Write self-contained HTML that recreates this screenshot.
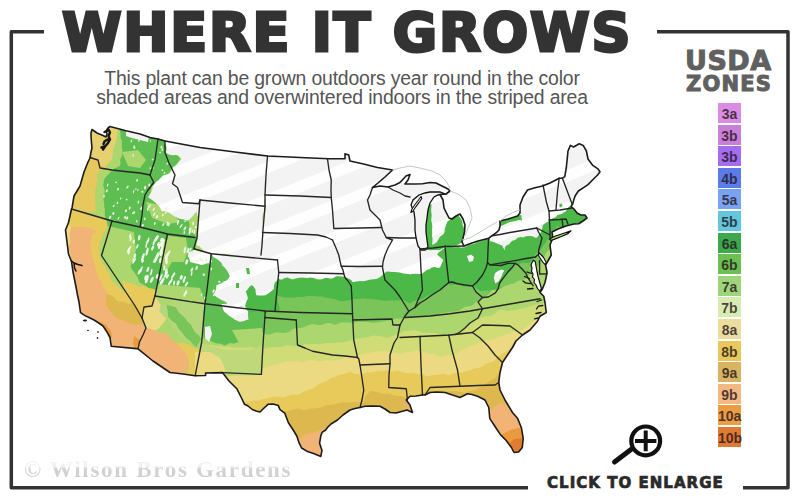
<!DOCTYPE html>
<html><head><meta charset="utf-8"><title>Where It Grows</title>
<style>
html,body{margin:0;padding:0;background:#fff;}
body{width:800px;height:500px;position:relative;overflow:hidden;}
.t{position:absolute;white-space:nowrap;line-height:1;}
#title{left:62px;top:6px;font-family:"DejaVu Sans",sans-serif;font-weight:bold;font-size:54px;letter-spacing:1.8px;color:#333;-webkit-text-stroke:3px #333;}
.sub{font-family:"Liberation Sans",sans-serif;font-size:19.4px;letter-spacing:-0.17px;color:#555;width:800px;text-align:center;left:-58px;}
#usda{left:685px;top:47px;font-family:"DejaVu Sans",sans-serif;font-weight:bold;font-size:27px;letter-spacing:0.5px;color:#606060;-webkit-text-stroke:1px #606060;}
#zones{left:686px;top:73.5px;font-family:"DejaVu Sans",sans-serif;font-weight:bold;font-size:21px;letter-spacing:1.2px;color:#606060;-webkit-text-stroke:1px #606060;}
#legend{position:absolute;left:718px;top:103px;width:23px;}
#legend div{height:20px;margin-bottom:1.6px;font-family:"Liberation Sans",sans-serif;font-weight:bold;font-size:14px;line-height:22.5px;text-align:center;color:rgba(35,22,30,.8);}
#cte{left:547px;top:476.3px;font-family:"DejaVu Sans",sans-serif;font-weight:bold;font-size:15px;letter-spacing:1.03px;color:#2a2a2a;-webkit-text-stroke:0.7px #2a2a2a;}
#wm{left:24px;top:458px;font-family:"Liberation Serif",serif;font-weight:bold;font-size:23px;letter-spacing:1.7px;color:transparent;background:linear-gradient(to bottom,#f4f4f4 0%,#f0f0f0 38%,#d4d4d4 46%,#cdcdcd 100%);-webkit-background-clip:text;background-clip:text;}
svg{position:absolute;left:0;top:0;}
</style></head><body>
<svg width="800" height="500" viewBox="0 0 800 500">
<g fill="none" stroke="#333" stroke-width="3.5" stroke-linecap="butt" stroke-linejoin="round">
<path d="M44 31.8H11.3V487.8H528"/>
<path d="M657 31.8H788V487.8H743"/>
</g>
<g id="map"><defs><clipPath id="us"><path d="M92,129.5 97,133 103,135.5 106,137 107,134 106,131 108,128 110,126.5 125,130.5 140,134 150,137.5 158,139 165,141 200,147.5 235,152 267.5,156 300,157.5 328.75,158.75 345,158.75 345,153.75 348.75,155 350,161 362.5,163.75 377.5,167.5 392.5,170 385,177 378,183 372.5,187.5 380,186 388,187 395,185 400,182.5 406,176 410,174.5 408,180 405,184 415,184 422.5,183.75 430,182.5 436,183 442,186 448,189 450,191 446,194 440,194.5 443,200 444,208 449,218 452,219 456,216 460,214 463,219 465,225 464.5,232 463,238 462,242 464,246 470.5,243.6 478,241 484,239.5 488.6,238.4 492,235.6 496,233 499,230 500,226 500,221 508,219 517.5,216 520,213 520,205 523,197 527.5,190 534,188 542.5,186 550,183 559.2,178.2 562.4,178.2 564.8,176.6 566.4,167 568,151 570.4,145.4 573.6,147 579.2,143.8 583.2,145.4 586.4,151 588,159 592.8,165.4 597.6,168.6 600,171.8 597.6,175 592.8,179.8 588,184.6 583.2,187.8 578.4,191 575.2,195.8 573.6,200.6 572.8,203.8 571,206.5 574,209 577,213 581,215 585,215 587,218 583,221 578.75,223.75 574,224 566,226 558,229 552,232 552.5,235 552,240 550,245 551.25,255 548.5,260 546.5,263.5 545.5,265 546.3,268.5 547,272.5 546,278 545,282.5 542.5,288.75 540,292.5 543.75,296.25 545,302.5 546.25,312.5 540,316.25 537.5,321.25 530,330 522.5,335 516,341 512.5,347.5 507.5,355 502.5,362.5 500,372.5 498.75,382.5 500,390 505,400 512.5,412.5 517.7,418.6 521.4,427.7 523.2,438.5 522.3,447.5 518.6,452 514,452.5 511.4,447.5 506,440.3 500.6,434.9 497,429.5 493.4,424 489.8,418.6 488.75,407.5 485,400 477.5,396.25 472,394.5 467.5,393.75 460,397.5 452.5,395 445,392.5 437,392 430,392.5 425,395 422.5,395 416,396 410,396.25 406.25,400 410,405 412.5,412.5 407,410 402.5,411.25 396,413 390,412.5 385,409 380,406.25 372,406 365,406.25 360,407.5 355,408.5 350,410 343,415 337.5,420 331,424 327.5,427.5 325.6,430 322,432.4 320.8,436 319.6,443.2 322,450.4 320.8,456.4 314.8,454 307.6,451.6 301.6,448 299.2,443.2 296.8,436 293.2,430 288.4,422.8 284.8,413.2 280,409.6 278.3,405.6 273,404 268,404.3 263,409 260,412 256,411 252.3,409.5 248,406 244.5,404.3 242,399 239,393 236.8,388.7 229,381 222.5,372.6 205.6,373 205.6,375.5 195.2,375.7 183,374 170,372.5 153,361 138,348.8 136.25,348.6 111.25,346.25 110,337.5 107,332 103,326 98,322.5 94,320 89,317.5 85,315.6 80.5,312.6 79,302 77.5,295 76,287 73,272 71.5,261.5 68.5,254 67,242 65.5,230 68.5,222.5 71.5,209 72,208 74,196 77,191 80,186 84,172 88,162 90,158 91,152 92,148 91.5,143 91,136 91,133Z"/></clipPath>
<pattern id="stripe" patternUnits="userSpaceOnUse" width="30" height="30" patternTransform="rotate(-22)"><rect width="30" height="30" fill="#f3f3f3"/><rect y="10" width="30" height="11" fill="#fefefe"/></pattern><pattern id="spk" patternUnits="userSpaceOnUse" width="7" height="10" patternTransform="rotate(-20)"><rect width="7" height="10" fill="#56bb4e"/><ellipse cx="3.5" cy="5" rx="1.3" ry="3.6" fill="#e8f6e2"/></pattern><pattern id="spk2" patternUnits="userSpaceOnUse" width="9" height="11" patternTransform="rotate(-20)"><rect width="9" height="11" fill="#58bc4f"/><ellipse cx="4.5" cy="5.5" rx="0.9" ry="2.2" fill="#dff2d8"/></pattern></defs>
<g clip-path="url(#us)">
<path d="M92,129.5 97,133 103,135.5 106,137 107,134 106,131 108,128 110,126.5 125,130.5 140,134 150,137.5 158,139 165,141 200,147.5 235,152 267.5,156 300,157.5 328.75,158.75 345,158.75 345,153.75 348.75,155 350,161 362.5,163.75 377.5,167.5 392.5,170 385,177 378,183 372.5,187.5 380,186 388,187 395,185 400,182.5 406,176 410,174.5 408,180 405,184 415,184 422.5,183.75 430,182.5 436,183 442,186 448,189 450,191 446,194 440,194.5 443,200 444,208 449,218 452,219 456,216 460,214 463,219 465,225 464.5,232 463,238 462,242 464,246 470.5,243.6 478,241 484,239.5 488.6,238.4 492,235.6 496,233 499,230 500,226 500,221 508,219 517.5,216 520,213 520,205 523,197 527.5,190 534,188 542.5,186 550,183 559.2,178.2 562.4,178.2 564.8,176.6 566.4,167 568,151 570.4,145.4 573.6,147 579.2,143.8 583.2,145.4 586.4,151 588,159 592.8,165.4 597.6,168.6 600,171.8 597.6,175 592.8,179.8 588,184.6 583.2,187.8 578.4,191 575.2,195.8 573.6,200.6 572.8,203.8 571,206.5 574,209 577,213 581,215 585,215 587,218 583,221 578.75,223.75 574,224 566,226 558,229 552,232 552.5,235 552,240 550,245 551.25,255 548.5,260 546.5,263.5 545.5,265 546.3,268.5 547,272.5 546,278 545,282.5 542.5,288.75 540,292.5 543.75,296.25 545,302.5 546.25,312.5 540,316.25 537.5,321.25 530,330 522.5,335 516,341 512.5,347.5 507.5,355 502.5,362.5 500,372.5 498.75,382.5 500,390 505,400 512.5,412.5 517.7,418.6 521.4,427.7 523.2,438.5 522.3,447.5 518.6,452 514,452.5 511.4,447.5 506,440.3 500.6,434.9 497,429.5 493.4,424 489.8,418.6 488.75,407.5 485,400 477.5,396.25 472,394.5 467.5,393.75 460,397.5 452.5,395 445,392.5 437,392 430,392.5 425,395 422.5,395 416,396 410,396.25 406.25,400 410,405 412.5,412.5 407,410 402.5,411.25 396,413 390,412.5 385,409 380,406.25 372,406 365,406.25 360,407.5 355,408.5 350,410 343,415 337.5,420 331,424 327.5,427.5 325.6,430 322,432.4 320.8,436 319.6,443.2 322,450.4 320.8,456.4 314.8,454 307.6,451.6 301.6,448 299.2,443.2 296.8,436 293.2,430 288.4,422.8 284.8,413.2 280,409.6 278.3,405.6 273,404 268,404.3 263,409 260,412 256,411 252.3,409.5 248,406 244.5,404.3 242,399 239,393 236.8,388.7 229,381 222.5,372.6 205.6,373 205.6,375.5 195.2,375.7 183,374 170,372.5 153,361 138,348.8 136.25,348.6 111.25,346.25 110,337.5 107,332 103,326 98,322.5 94,320 89,317.5 85,315.6 80.5,312.6 79,302 77.5,295 76,287 73,272 71.5,261.5 68.5,254 67,242 65.5,230 68.5,222.5 71.5,209 72,208 74,196 77,191 80,186 84,172 88,162 90,158 91,152 92,148 91.5,143 91,136 91,133Z" fill="#ecda82"/>
<path d="M215.1,395.7 217.9,396.2 220.7,396.5 222.8,396.5 225.1,397.4 227.4,398.9 229.6,399.4 232.4,399.5 235.5,400.7 237.7,401.7 239.4,401.7 241.5,401.8 244.4,402.1 247.8,401.8 250.2,401.6 252.3,400.8 255.8,400.2 258.8,400.4 260.7,399.8 262.5,399.1 264.2,399 266.5,398.3 269.3,397.7 271.6,397.2 273.9,396.5 276.5,396.4 279,396.8 282,397.3 285.1,396.9 288,395.7 290.4,395 292.7,394.6 295.2,394.8 297.7,394.8 299.9,393.9 302.5,392.1 306,390.4 309,389.5 311.1,389.3 313,388.5 314.7,387 316.8,385.8 319.1,384.2 321.9,382.4 325,381.5 327.8,380.4 330.4,378.7 333,377.2 335.9,376.5 338,375.7 339.2,375.1 342,374.2 345.4,373.4 348.2,372.6 350.7,371.8 352.4,372.9 354.3,373.6 357.6,374.1 360.4,374.8 362,374.1 364,373 367.3,372.5 370.8,372.6 373,372.2 374.4,371.7 376.5,371.3 378.8,370.7 382.1,370.7 385.7,370.5 388.5,371.1 391.1,371.8 393.6,371.6 396.1,370.8 398.8,370.9 401.3,371.8 403.9,372.2 406.3,373.2 408.9,373.5 411.5,372.8 414.6,373.2 418.3,374.1 420.8,374.1 423,374.5 425.6,375.7 427.8,376.4 430.5,375.8 433.9,375 436.2,374.9 438.5,374.7 441.6,373.7 443.7,373.6 446.3,374.4 449.4,375 451.8,374.3 453.9,372.9 456.3,372.7 459.2,372.8 462.5,372.4 465.3,371.8 468.1,370.7 470.8,369.7 473.6,368.7 476.5,368 478.7,367.7 481.1,367.1 483.5,365.8 485.1,364.2 487.5,363 491,361.9 493.3,361.4 494.6,360.4 496.8,358.1 500.2,355 502.7,353.3 504.2,352.7 506.8,351.3 509.1,349.5 510.4,347.5 511.6,345.8 513.5,344.8 516.5,343.7 519.9,342.3 522.4,340.9 524.8,340.5 527.5,339.6 530.4,337.7 530.4,340.4 529.9,343.3 530.1,345.4 530.5,347.3 530.2,349.9 530.4,352.6 531.5,355.3 532.2,358.8 532,361.8 532,364.2 532.4,366.8 531.8,368.9 531.3,371 531.9,373.6 532.3,376.5 532.1,379.6 532.3,381.8 533.1,383.9 533.4,386.9 533.2,389.7 533.8,392.2 535.1,394.5 535.6,396.8 535.4,399.8 535.3,402.5 535,404.8 534.3,407.3 534,409.6 534.8,411.9 536.2,414.1 537,416.1 536.7,418.6 536.1,421.2 536.4,423.4 537,426.3 537.1,429.6 537.4,432 537.6,434.5 537.3,437.6 537.6,440 538.6,442.1 539.1,444.8 539.1,447.4 539.2,449.7 539.6,452.5 539.6,455.6 539.3,458.1 539.7,460.5 540.5,463.3 540.5,465.5 540.2,467.2 540.7,470 538.4,470.3 535.5,469.7 532.7,469.3 530,469 527.6,469.1 524.9,469.2 522,469.1 520.3,469.6 518.7,470.5 516.2,470.4 513.1,470.4 510.2,470.8 507.9,470.9 505.3,471 502.7,470.9 500.2,470.3 497.3,469.6 494.7,470 492,470.1 489.8,469.8 487.3,470.1 484.7,469.8 482.6,469.4 480.2,469.4 478,469.8 475.6,469.8 472.1,469.7 468.9,470.3 466.9,470.3 464.9,470.1 461.9,470.1 459.6,469.7 458,469.7 455.5,470.1 452.8,470 450.4,469.9 447.7,470 444.9,469.5 442.1,468.9 439.9,468.8 438.3,468.8 436.2,469.3 433.3,470 430.2,470.3 427.4,470.7 424.5,470.4 421.8,469.9 420,470.8 418.3,470.8 416,470 413.5,470.3 410.7,470.2 407.2,470.3 404.3,470.5 402,470 399.4,470.2 396.8,470.9 394.7,470.7 392.6,470.5 389.9,471 387.5,471 385.8,470.1 383.5,469.6 380,469.9 376.4,469.8 374.2,469.1 372.4,469.1 369.7,469.4 367.5,469.4 365.1,469.7 362.5,470.2 359.9,469.9 356.7,469.6 354,469.9 351.8,470.2 349.5,470.4 347.4,470.7 344.6,471.2 341.4,471.3 339.1,470.5 337.3,469.5 335.1,469.5 332.8,470.5 330.6,470.9 328.5,470.3 326.1,469.7 322.9,469.7 319.6,470.2 317,470.3 314.1,470.3 311.4,470.5 309.7,470.3 307.6,469.5 304.5,469.7 301.8,470.9 299.7,471.4 297.7,470.6 295.3,469.2 292.9,468.7 290.4,469.2 287.8,469.8 285.7,469.8 283.1,469.5 280,469.4 278,469 275.4,469.1 272,470 269.7,470.3 268,470.1 265.7,469.9 262.7,469.6 260.3,469.4 258.4,469.7 256.1,470.5 253.4,470.4 250.4,469.3 247.5,469.3 244.8,470.3 242.9,470.7 240.8,470.3 238.2,469.7 235.2,469.5 232.5,469.8 230.8,470.2 229,470.2 226.2,470.5 223.2,470.8 220.4,470.2 217.8,470.1 215.8,470.8 215.8,468.3 214.7,465.1 214.2,461.9 214.6,459.6 215.2,457.4 215.5,454.3 214.8,451.5 214.5,449.8 214.8,447.7 214.8,445.1 214.9,442.5 214.6,439.9 214.7,436.8 215,434.3 214.4,432.2 214.2,429.3 214.9,427 215.6,425.4 215.9,422.8 215.9,419.5 215.9,416.6 215.7,414.7 215.4,412.6 214.5,409.7 214.2,406.9 214.7,405.1 214.9,403.1 215.3,401.1 215.4,398.6Z" fill="#e8ca5a"/>
<path d="M260.7,419.8 263,419.8 265.3,419.2 267.3,417.8 269.5,415.8 272.5,414.4 275.9,413.6 278.3,412.7 279.8,412.4 282,411.7 284.6,411.6 287.1,411.4 289.6,410.5 292,409.8 294.5,409 297.6,408.4 300.6,409 303.1,410.1 305.6,410.2 307.6,409.2 309.7,408.5 313,408.6 315.6,408.4 317.1,407.8 319.1,407.8 322.2,407.2 325.1,405.7 328,405.1 330.9,404.9 333.4,404.3 335.3,404.1 337.1,403.8 340,403 342.7,402.6 344.2,402.2 346.7,402.3 350.4,402.4 353,402.2 354.8,402 357.1,402.1 359.7,402.4 362.7,403 364.2,400.5 365,397.5 366.6,394.9 368.7,392.8 370.5,390.6 372.9,391.3 374.9,391.6 377.5,392.1 380.8,393.1 383.1,393.7 385.2,393.8 387.7,393.6 390.5,393.9 393.3,394.9 395.8,395.7 397.9,395.9 400.6,396 403.3,396.7 405.9,397.4 408.5,397.2 411.1,395.9 413.8,396 416.2,395.8 418.1,394.7 420.3,393.5 423.1,393.1 425.6,392.5 427.6,391.9 429.5,391.1 432.1,390.8 435.5,391.1 438.4,391.1 439.9,390.5 441.6,390.5 444.2,391.2 447,391.4 450,390.9 452.7,391 454.5,391.2 456.5,391 459.3,391.4 462.6,392.4 465.3,392.5 466.9,391.9 469,391.3 472.2,390.7 475.4,390.2 477.9,388.7 479.3,387.7 481.3,386.9 484,385.4 486.6,383.2 489.5,381.3 492.7,379.4 495.1,378.1 496.4,376.8 498.1,374.2 500.1,372.2 502.5,370.9 505,369.2 507.4,369.5 510.2,370.5 513,370.7 515,370 517.4,369.8 520.8,369.7 523.3,369 525.1,369.2 527.8,370.1 530.8,370 530.1,372.7 529.2,376.1 529.4,378.6 530.6,380.1 530.7,381.8 530.1,384.8 530,388.3 529.9,390.7 530,392.6 530.7,395.2 530.4,397.5 529.3,399.6 529,402.3 529.5,405.7 530,408.4 530.5,410 530.7,412.2 530.1,414.9 529.3,417.5 529,419.3 529.2,421.7 529.8,424.9 530.4,427.7 530.4,430.8 530.6,433.6 530.7,435.3 530,437.2 529.6,440.4 529.7,443.3 529.8,444.9 529.7,446.6 530.4,449.1 531.1,452.1 530.5,454.9 529.4,456.9 529.5,459 529.8,462 529.5,465.3 529.6,468 530.3,470.2 528.3,470.5 525.8,470.8 523,470.2 520.2,469.5 517.7,469.8 515.4,470.7 512.8,470.4 509.9,469.9 507.5,469.7 504.8,469.8 502.4,470.4 499.8,470.3 497.2,470 495.1,469.7 492.3,469.4 489.2,469.6 486.5,469.5 484.3,469.7 482.5,470 480.2,469.4 477.6,469.5 474.9,470 471.9,469.6 469.5,469.5 467.7,469.6 466,469.9 463.5,470.8 460.1,470.7 456.7,469.6 454.6,469.8 452.5,470.3 449.8,470.4 447.4,470.6 444.6,470.1 442.1,469.5 440.6,469.9 438.1,470.2 434.9,470 432.3,470.4 429.7,470.6 427.2,470.3 424.8,470.3 422.1,470.7 419.5,470.6 417.3,470.5 415,470.5 412,470.1 409.5,469.9 407.5,469.8 405.3,469.7 403.1,469.6 400.6,469.9 397.8,470.6 395.2,470.9 392.6,470.5 389.3,469.8 386.3,469.5 384.2,469.6 382.6,469.9 380.2,469.7 377.1,469.3 374.9,470 373,470.5 370.1,470.6 366.7,470.4 364,469.5 361.4,468.8 359,468.9 356.7,469.6 354.6,469.8 352.8,469.7 350.2,469.8 347.6,469.9 345.5,469.9 343.3,470.4 340.6,470.5 337.4,470.4 334.6,470.3 331.8,469.5 329.1,469.1 327.1,469 325.6,469 323.7,469.4 321,470.1 318.1,469.9 314.9,469.7 311.7,469.6 309.2,469.7 307.2,469.9 304.8,469.5 301.9,469.1 299.5,469.4 297.6,470.3 295.7,470.9 293.3,470.4 290.2,469.5 287.3,469.4 285.5,469.5 283.4,469.8 280.3,470.2 277.3,469.6 274.6,469.8 272.1,470.8 270.4,470.7 268.5,469.8 265.6,469.8 263.1,470 260.5,469.3 260.1,467 260.6,465.1 260.3,462.2 259.3,459.4 258.9,457 259.3,454.4 260.1,451.4 260.2,449.3 260.2,448.1 260.4,446 260.1,442.9 259.5,439.6 259.7,436.9 260.2,434.7 260.1,432.1 260.4,430.1 260.4,428.1 260.2,425 260.5,421.9Z" fill="#dcb84e"/>
<path d="M290.5,470.5 290.7,467.7 290.4,465.2 291.2,462.3 292,459 292,456.5 292.8,453.9 294.3,451 295.2,448.8 295.7,446.6 296.1,443.7 296.2,441.3 299.1,439.4 301.9,436.9 304.3,434.4 306.9,433.8 309.2,433.2 311.7,432.7 315.4,432 319.2,430.5 322.1,428.7 325,427.6 325.5,430.7 326.1,433.2 326.4,435.9 327.2,438.8 328.1,440.8 328.5,443.1 328.2,445.7 327.7,448.1 327.5,450.3 327.9,453.2 328.6,456.8 328.8,460 328.4,463.1 328.3,465.6 328.7,467.6 329.3,470.4 327.5,470.6 325.8,470 323,470.2 319.7,470.8 316.8,471.2 314.7,470.7 312.8,470 310.3,469.7 308,469.4 305.9,469.5 302.9,469.4 299.4,469.1 296.7,469.3 294.3,469.6 292.1,470.2Z" fill="#f2b476"/>
<path d="M480,470 489,411 500.7,402.4 511.5,407.8 530,405 530,470Z" fill="#f2b476"/>
<path d="M402,401 407,399 412,404 412,412 404,412Z" fill="#e6b466"/>
<path d="M495,470 500.7,434.7 511.5,429.4 520.5,427.5 530,425 530,470Z" fill="#ec9a3e"/>
<path d="M508,445 514,439 525,438 525,456 508,456Z" fill="#e27c30"/>
<path d="M197.7,100.9 197.2,103.1 197.6,104.4 197.6,106.9 197.6,110 197.8,112.3 197.4,114.6 197,117.5 197.4,119.9 197.5,122.1 197.4,124.5 198,127 198.4,129.1 198.4,131.6 198,134.5 197.3,137.4 197.3,140.1 197.3,142.2 197.1,144.3 197.1,146.5 197.2,149.2 197.7,152.2 198.1,155 197.9,157.8 197.5,160.2 197.1,162.4 196.9,165 197.7,167.6 198.6,170.5 198.2,172.8 197.8,175 197.8,177.9 197.6,181 197.8,183.5 198.5,184.8 198.7,186.4 198.2,189.3 198.4,192.9 199,195.8 198.9,197.8 198.5,199.6 198.2,201.9 197.9,204 197.6,206.3 197.8,209.7 198.7,213.2 198.8,215.9 198.4,217.8 198.2,219.5 197.3,221.7 197.1,224.1 197.6,226.5 197.6,229.5 198,232.7 198.4,235.1 197.6,237.5 197,240.5 197.5,243.6 197.9,246.1 197.3,248 197,250.4 197.6,253.1 197.7,255 197.5,257.3 197.9,260 198.3,262.2 198.3,264.5 198.3,267.3 198.5,269.8 199,272.2 198.9,274.7 198,277 197.9,279.5 198.3,282.3 198.2,284.6 198.4,287.2 198.6,290 198.8,292.2 199.2,294.2 198.6,296.5 197.8,299.3 197.9,302.1 198.1,304.6 198,307.3 197.7,310.2 197.8,312.3 198.3,314.1 198,317.3 197.4,320.3 197.2,322.2 197.3,325.1 197.4,328.2 197.5,330.2 197.1,332.4 196.7,334.7 196.6,337.2 197.2,340.1 197.7,342.6 197.5,344.8 197.8,347.4 198.4,350.2 197.9,352.6 197.7,354.2 198.6,356.3 198.5,359.1 197.4,362.2 197.3,365.2 198.1,367.9 198.4,370.4 198.2,372.5 198.1,374.7 200.6,374.5 203.3,374.2 205.8,374.7 208.5,374.4 211.9,373.2 215,372.8 217.5,373.3 219.6,373.2 222.1,372.1 224.9,371 227.8,370.6 230.6,369.9 232.7,369.6 234.4,369.7 237.1,369.4 240,368.2 242.1,367.6 244.2,368.3 247,368.5 250.8,367.5 254.5,366.9 256.8,367.3 258.6,367.4 261.3,367.7 264.1,368.3 266.7,367.2 269.6,365.8 273,365.4 275.4,365.1 277.2,364.5 279.7,363.6 281.9,362.9 284.1,362.1 287.5,361.2 291.3,361.5 294,361.7 295.7,360.9 297.7,360.9 300.5,361.8 303.7,361.9 306.6,361.1 309,360.2 311.8,359.9 315.3,360.6 317.9,361.4 319.8,361.5 322.4,361 325.6,360.3 328.9,360 331.6,360.5 333.7,360.4 336.3,360 339.2,359.7 341.7,358.7 343.6,357.5 345.7,357.1 349,357 352.5,357.1 354.9,356.8 357.2,355.9 359.7,355.1 362.2,354.5 365,353.8 368,352.9 370.9,352.4 373.7,351.7 376.4,351.6 379,351.5 382.1,351.2 384.9,351.2 387.3,351.6 389.7,352 393.3,352.7 397.1,353.2 399.7,354.3 401.6,353.8 404.5,352.8 408.1,352 411.2,351.8 413.5,351.3 416.3,350.3 418.9,350.7 421.4,351 424.3,351.8 426.4,353.2 428.6,353.8 431.9,353.8 435.1,354.6 437.5,356 440.1,356.9 443.5,356.2 446.8,355.5 449.2,354.9 451.4,354.6 454.2,354.5 456.7,353.7 458.3,352.2 460.1,350.7 462.6,349.6 465,348.7 467.5,347.1 470.7,346.3 473.6,345.6 475.8,344.2 477.8,343.5 479.7,342.7 482.6,341.7 485.6,340.4 487.5,339.8 490.2,340.1 493.5,339.7 496,338.3 498,337 500.2,336.4 503,335.3 505.7,334.3 508.2,334 510.2,333.2 512,332.1 514.7,331.7 517.1,331.3 519.2,330.8 521.7,330 524.1,328.5 525.7,326.7 527.7,325.6 529.9,323.7 531.9,321.7 534.4,320.6 537.1,318.9 539.3,316.4 541,314.2 543,312.7 544.8,311.4 547.1,309.7 549.7,307.8 551.2,305.9 552.7,304.3 555.4,302.9 557.9,301.2 559.9,299.3 560.7,297 561.4,295.2 561.5,292.9 561.3,290.2 561.3,288.2 562,286.1 562.9,283.2 563.3,280.6 563.6,278.2 564.5,275.7 565.1,273.5 565.6,271.4 566.7,268.5 567.4,264.9 567.6,262.4 568.1,260.7 568.6,258.4 568.8,255.7 569.3,252.9 570.3,250.2 571,248.1 571.3,246.3 571.2,244.1 571.6,241.2 572.3,238.3 572.3,235.4 572.9,233.1 574.3,231.1 575,228.5 574.6,226.4 574.5,223.7 575.7,220.7 576.7,218.5 576.7,215.8 577.1,213.1 577.8,210.9 578.2,209 578.5,206.6 579.5,203.8 580.8,201 581.2,198.3 581.2,195.4 581.4,192.8 581.5,191.5 581.9,189.9 583.1,187.4 583.7,184.9 583.9,182.2 584.4,178.9 584.6,175.9 584.7,173.5 585.2,171.1 586.2,168.8 586.9,166.5 586.9,163.8 587,161.4 587.9,159.3 588.7,156.8 589.3,153.9 590.2,151.2 590.6,149.1 590.4,147.4 591.2,145.3 592.6,142.2 592.7,138.8 592.7,136.3 593.7,134.3 594.5,132.6 594.6,130.9 594.8,128.6 595.2,126.1 596,123.5 596.2,121 596.4,117.9 597.5,114.4 598.4,112 599.1,110.2 599.6,107.9 599.8,105.4 600.2,103.1 600.5,100.5 597.5,99.7 595.4,100.1 592.9,100.4 590,99.3 587.7,99.3 585.1,100.6 582.7,100.6 580.3,99.2 577,99.1 574.4,100.3 572.1,100.6 569.3,100.2 567.3,100.3 565.3,100.7 562.3,100.3 559.6,99.1 557.8,99.1 555.8,100.5 553,101.3 550.4,100.8 548.2,100 545.2,99.5 541.8,99.2 538.9,99.3 536.1,99.9 533.5,99.9 531.8,100 530.4,100 527.7,99.9 524,100.1 521.2,99.9 519.4,99.8 517.7,100.1 515.4,99.5 512.5,99 509.6,99.3 507.2,100 504.5,100.3 502.3,99.8 500.4,99.6 497.4,99.8 494.3,99.8 491.9,99.6 489.1,99.9 486,100.2 483.6,99.6 481.6,99.2 479.3,99.3 476.7,99.7 474.5,100.4 472,100.7 468.7,100.6 466.1,100 464.3,99.6 461.6,99.9 458.4,99.6 456.2,99.3 454.8,100 452.2,100.6 448.9,100.1 446.5,100 444.9,100.9 442.6,101 439.6,99.9 436.5,99.6 433.7,100.4 431.1,100.6 428.6,100.2 426.5,100.2 424.4,99.9 422,99.6 419.2,100.2 416.5,100.4 414.4,100.4 412.2,100.1 409.3,99.5 406.5,99.5 403.8,99.5 401.3,99.5 399,100 396.7,99.5 394.2,99.5 392,100.7 389.5,101.4 386.9,100.9 384.5,100.4 381.8,100.3 379.3,99.9 376.7,100.4 373.5,100.6 370.6,99.6 368.2,99.3 365.9,100.3 363.9,100.9 361.8,101 359,100.9 356.6,100.2 354,99.5 350.9,99.1 348.1,99.7 345.9,100.2 343.9,99.4 341.1,99 338.2,99.1 336.1,99 334.3,99.1 332.1,99 329.1,99.2 326,99.8 323.3,100.1 321.1,100.4 318.1,100.5 315.4,100.6 313.4,100.4 311.5,99.5 308.9,98.9 306.2,98.9 304.4,99.6 301.7,100.6 298.2,100.9 295.8,100.1 293.4,99.3 290.7,99.5 288.1,99.8 285.8,100 283.6,100.7 281.6,101 279.6,100.4 277.4,100.4 274.5,100.6 271.4,100 268.9,99.8 266.5,100.8 264.2,100.7 261.4,99.8 258,100 255.3,99.7 253.2,98.9 250.7,98.8 248.3,99.4 246.1,99.9 243,99.3 240,98.8 237.4,99.4 235.4,100.3 233.1,100.4 229.9,100.2 227.4,99.8 225.7,99.1 223.6,98.8 220.9,98.9 218.1,98.9 216.1,99.3 213.9,99.9 210.9,99.9 207.6,100 204.8,100 202.5,99.7 200.5,100Z" fill="#d0dc76"/>
<path d="M198.8,98.8 198.4,101.8 198,104.8 198,106.8 197.8,109.3 198,112.4 198.3,115.3 198.3,118.1 198.8,120.1 199.2,122 198.6,124.7 197.8,127.5 198.1,130.5 198.6,133.3 197.8,135.2 197.5,136.6 197.9,139.1 197.8,142.3 197.6,144.4 197.9,146.4 198.3,148.7 197.7,151.6 197.3,155.1 197.9,158.1 198,159.9 198,162.2 198.4,165.1 198.7,167.4 198.3,170.1 197.4,173.1 197.1,175.4 197.4,177.2 197.7,179.6 198,182.6 198.2,185.2 197.7,187.5 197.3,189.9 197.7,192.2 198.1,195.1 198.6,198 198.7,199.8 198,202.3 197.4,205.6 197.5,207.8 197.9,209.2 198.1,211.4 198.6,214.2 198.5,217.2 198.2,220.5 198.5,223.5 198.3,226.1 197.9,228.3 198.4,230.2 198.7,232.6 198.3,235.2 197.8,237.3 197.9,239.3 198.4,242 198.2,244.8 197.5,247.1 197.2,248.9 197.6,251.8 198.5,255.3 199.1,257.5 199.3,259.3 199.2,261.9 198.9,265.2 198.8,268 198.8,269.8 198.9,272.2 198.5,275.2 198,278 198.1,280.1 197.7,281.9 197.8,284.5 198.1,287.3 197.6,289.8 197.5,292.4 198,294.3 198.4,296.6 198.7,300 199.1,303.1 199.1,305.7 198.2,308.2 197.6,310.8 197.6,312.7 197.9,314.7 198.8,317.4 198.8,319.4 197.7,321.3 197.5,323.6 198.3,326.7 199,330.1 199.1,332.3 198.3,333.9 197.7,336.7 197.7,340.3 197.8,343.3 198.5,345.4 201.6,344.5 204.2,344.2 206.8,344.7 209.3,344.8 212,344.8 214.3,345.4 216.4,346 218.7,345.8 220.9,345.9 223.1,346.6 226.2,346.6 229.5,346.6 232.1,347.3 235,347.6 238.1,347.6 240.5,347.5 242.7,347.3 244.9,347.6 247.2,347.5 250.1,347.1 253.5,347.4 256.8,348.3 259.4,348.4 261.8,347.9 264.9,348.3 267.5,348.2 269.7,347.2 272.7,347 275.6,347.2 278.4,347 280.7,347.2 282.4,346.9 284.9,345.6 287.8,345.1 290.3,345.4 293,345.9 296.4,346 299.2,345.7 301.8,345.2 304.5,344 306.6,343.9 309.2,344.5 312.3,344.1 315,343.5 317.5,344 320,344.2 322.8,343.7 326,342.9 329.4,342.9 332.5,343.3 334.7,343 336.6,342.4 338.8,342.4 341.3,342.5 344.5,341.9 347.3,341.4 349.2,340.8 351.7,339.7 355.2,339.1 358.1,338.7 360.7,338.2 363.6,337.8 366.9,337.1 369.3,336.7 371.2,336.1 374.3,335.6 377.7,335.9 379.9,335.9 382.2,336.5 385.2,337.6 387.4,337.7 390.1,336.9 393.2,335.6 396.1,334.6 399.2,333.3 401.8,332.3 404.1,330.8 407.1,330.9 409.9,330.8 412.4,330.3 414.7,330.2 416.9,330.7 419.3,331.3 422.7,332.3 426.4,333.3 428.6,333.1 429.9,332.6 432.1,333.1 435.4,333.3 438.7,333.7 441.1,334.6 443.3,335.4 446.3,335.4 449.6,334.8 452.4,334.6 454.6,333.1 457.1,332 459.7,331 461.6,329.7 463.5,328 466.1,326.4 468,325.7 470.2,324.4 472.8,322.2 474.9,320.5 477.2,319 480.3,317.8 482.7,317.1 485.3,316.5 488.7,316.1 491.3,315.4 493.1,314.7 495.2,313.5 497.8,311.3 500.3,309.6 502.3,309.7 504.5,310.3 507.7,310.9 511,310.6 513.6,310.3 515.8,310 518.7,309.1 521.7,308.4 524.2,308.3 527.2,307.3 530,306.2 532.1,305.5 534.6,304.8 537.3,304.4 540,304.1 542.8,303.5 545.1,302.4 547,301 549.2,298.5 551.7,296.4 553.8,295.4 556,294.3 558.4,292.6 560.1,290.5 560.6,288 562,285.9 562.9,283.6 562.8,280.9 562.8,277.9 563.5,275.6 564,273.1 564.2,269.9 565.2,267 566.2,264.7 566.5,262.5 566.6,260.4 566.9,258 567.2,255.1 567.7,252 568.6,249.7 569.5,248.1 570,246.4 570.2,244.3 570.2,241.3 570.2,238 571.1,235.5 572.1,233.5 572.4,231.2 572.8,228.7 573.1,226.4 574,223.6 575,220.7 575.3,218.2 575.6,216.1 575.8,213.8 576.7,210.6 578,207.7 578.4,205.5 578.3,203.3 578.9,200.5 579.8,197.8 580.5,195.9 580.9,194.1 580.9,191.8 581.1,188.8 582,185.9 582.6,183.8 583.4,181.7 583.9,178.4 583.9,175.8 584.4,174.2 585.1,171.5 586,168.2 586.7,166.1 586.5,164.7 587,162.1 587.6,158.9 587.8,156.5 588.1,153.9 589.3,151.6 590.5,149.1 590.5,146.6 590.7,144.6 591.4,141.7 591.5,139 591.7,136.9 592.6,133.8 593.3,131.1 594.2,129.5 595.2,127.5 595.7,125.5 596,122.8 596.2,119.1 596.3,116.4 596.3,114.6 596.9,112.2 598.2,109.9 599.2,107.7 599.5,104.9 599.4,102.1 599.4,99.8 597.1,100.7 594.5,101.2 591.6,100.4 589.5,100 587.3,100.5 584.3,101.1 582.1,100.4 580.7,99.5 578.2,99.4 574.6,99.5 571.3,100.1 568.6,101 566.6,100.7 565.2,99.9 562.7,99.7 559.6,99.5 557.2,99.5 554.7,100.3 551.9,100.5 550.2,99.9 547.8,99.9 544.7,100.4 542.5,100.5 540.1,99.8 537.4,99 534.9,98.8 532,99.4 529.2,100.3 526.8,100.4 524.6,100.1 522.6,99.8 520,99.4 517.7,99.8 515.2,100.6 511.8,100.3 509,99.7 506.7,100.1 504.4,100.4 502.3,100.5 499.6,100.6 496.7,100.7 494.6,101.1 492.8,101 490.5,100.3 487.3,100.1 483.9,99.8 481.6,99.6 479.4,99.8 476.9,100 475.1,99.8 472.5,99.9 469.1,100.7 466.2,100.9 464,100.8 461.6,100.6 458.9,100.2 456.4,99.9 454,99.6 452,99.2 449.7,99.5 446.6,100.5 443.3,100.8 440.5,99.9 439,99.3 437.4,99 435,99.2 432,100.2 428.4,100.4 425.3,99.5 423.2,99.5 421.3,100 418.6,100.1 416.1,100.3 414.3,100 411.9,99.6 408.9,99.3 406.2,99.4 403.7,99.5 401.3,99.8 398.7,99.8 395.9,99.5 393.3,100.1 390.7,100.5 388,99.7 385.3,99.1 383.3,98.8 381.2,99.3 378.3,100.2 375.9,100 374.1,99.3 371.6,99.6 368.7,100 366.4,99.4 364.5,99 362.1,99.4 359.3,100.1 356.8,100.5 354.2,100.5 351.3,100.9 348.5,101 346,100.1 343.6,99.7 341.2,99.9 338.7,99.6 336.5,99.4 334.5,99.1 331.8,99 328.1,99.3 325,99.8 322.5,100.6 320.4,100.8 318.8,101.1 316.3,101.3 313.1,100.9 310.7,100.4 309.2,100.3 307,100.6 304.2,100.2 301.7,99.6 299,99.7 296,99.9 293.3,100.1 291.3,100.5 289.5,100.5 287.4,100.5 284.8,100.8 281.4,100.4 277.8,99.3 275.5,98.7 274,98.7 271.3,99.5 268.3,100.3 265.8,100 263.8,99.7 261.5,99.9 258.8,99.9 255.9,99.9 253.3,100.1 250.1,100.2 247.2,100.7 245.4,100.4 243,99.5 240.3,99.4 238.3,99.7 236.4,99.9 233.6,99.4 231.1,99.5 228.6,100.3 225.6,100.5 222.6,100.3 220.6,100 218.9,99.7 216,99.5 212.7,99.5 210.3,99.7 207.9,99.8 205.4,99.2 203.1,98.9 201.1,98.8Z" fill="#acd66e"/>
<path d="M198.4,98.8 197.8,101.5 197.7,104.4 198.7,107.6 198.8,109.8 197.8,111.6 197.6,114.2 198.6,116.9 198.8,119.8 198.1,122.8 198.4,125.1 199.1,127.1 198.7,129.4 197.6,131.8 196.9,134.9 196.9,137.8 197.6,140.2 198.8,142.7 199,144.9 198,147.5 197.3,150.1 197.3,152.1 197.6,154.8 198.2,157.9 198.7,160.9 198.6,163.7 198.1,165.6 197.9,167.1 197.8,169.4 197.7,172.2 198,174.9 198.4,177.3 198.3,179.7 197.9,182.6 197.7,184.9 197.1,186.6 196.9,189.6 197.3,193.4 197.3,196.4 196.8,198.5 196.9,200.7 197.9,203.2 198.9,205.3 198.5,208.2 197.4,210.9 197.2,212.2 197.5,213.9 197.3,216.4 197.3,219.6 198.1,223 198.5,225.7 197.8,227.5 197.1,229.8 196.7,232.4 197.1,234.6 197.8,237 198,240.3 198.4,243.4 198.3,246.2 197.3,248.3 197,249.9 197.7,252 198.5,254.6 198.4,257.2 197.8,259.9 197.6,263.2 197.7,266.2 198.1,268.5 198.3,270.9 198.1,273.8 198.6,276.5 199,278.9 198.9,280.9 199.2,282.6 198.8,284.6 198.2,287.3 198.3,290.5 198.2,293.5 197.9,296 197.5,298 197.3,300.5 198,303.9 198.6,306.7 198.3,309.1 198,311.6 198.7,313.8 198.9,315.6 197.9,317.7 199.7,317.7 202.4,318.5 205.3,319.2 208.6,318.6 211.8,318.1 214.5,318.2 216.6,318.2 218.4,318.3 221.1,318.4 224.3,319 226.6,320 228.6,320.4 230.8,320.3 233.6,319.9 236.9,319.4 239.9,319.5 242.3,321.4 244.6,322.8 246.4,323.4 248.7,324.4 251.6,325.7 254.1,326.6 256.3,327.6 258.5,329.1 260.4,330.7 262.6,332.3 265.2,334.3 267.9,334.5 270.2,334.3 272.9,333.4 275.9,332.4 278.9,332.5 282.1,333.1 284.7,333 287.2,332.6 289.6,332 291.4,329.9 294.2,328.6 297.7,328.2 300.3,327.9 302.9,327.6 305.9,326.3 309.3,324.8 312.4,324.1 315.4,324.5 318.4,325 321.1,325 323.5,324.2 325.8,323.4 328.1,322.9 330.8,323.3 333.5,324.5 336.4,324.6 339.5,323 341.8,322.3 343.8,322.5 346.8,322.4 349.8,322.6 352.6,322.9 355.1,322.5 357.1,321.9 359.8,321.8 363.1,322 366.1,322.1 368.4,322.1 370.8,322.5 373.7,322.9 376.8,322.4 379.8,321.9 382.4,321.8 385,321.2 387.6,320.4 389.6,320.2 392.4,319.5 396.3,318.5 399.7,318.4 402.1,318.6 403.9,318 406.5,317.7 410.2,317.8 412.7,317.5 414.8,317.2 417.9,316.6 420,316.4 421.8,317 424.5,316.9 426.9,316.6 429.5,316.1 433.4,315.5 436.2,315.1 438,314.5 440.4,313.6 443.5,312.8 446.3,312.5 448.6,312.2 451.3,311.8 454.3,311.5 457,311.2 459.7,309.9 462.7,307.9 466,306.6 468.8,306.2 471.3,306.1 473,304.9 474.4,303.2 476.5,301.4 479.4,299.8 482.3,298.3 484.3,297 486.6,295.6 489,293.9 490.4,292 491.6,290.5 493.7,289.9 496.8,290.1 500.3,289.1 502.6,287.5 504,286.5 506.1,285.8 509.2,284.5 512.6,283.7 515.1,283.1 516.4,281.8 518.7,280.7 522.4,280 525.3,279.1 526.9,276.9 528.7,275.1 531.2,273.4 533.4,271.6 535,270 536.1,268.2 537.8,266 539.4,263.7 540.7,261.4 541.9,259 543.5,257.1 545.2,255 546.1,252.7 547.6,250.9 550.2,249.3 552.1,247.3 553.5,244.9 554.7,242.5 556.1,240.3 556.6,237.4 556.6,234.7 556.9,232.7 558.4,230.8 559.9,228.2 560.1,225.6 559.6,224 560.3,221.8 562,219.1 563.2,216.7 564.5,213.9 565.4,210.6 565.5,207.5 566.2,205.2 567.2,203.7 567.7,201.9 568.2,199.6 568.7,197 569.5,194.5 571,192.1 572.2,189.8 572.7,187.2 572.8,184.8 573.1,182.4 574.2,179.6 575.5,176.8 575.9,174.9 575.7,172.8 576.3,170.4 577.5,168.3 578.3,165.3 579,162.2 579.9,160 581.2,157.4 582.7,155.2 583.9,153.2 583.9,150.7 584.2,148.1 585.6,145.5 586.7,143.6 587.4,141.5 587.8,138.6 588.1,136.1 588.4,133.7 589.2,132.1 590.3,130 591,126.9 592.5,124.3 594,121.5 594.5,118.6 595.1,116.3 596.3,114.6 597.4,112.3 598.2,109.4 598.7,107 598.4,104.9 598.5,102.7 599.9,100.6 598.1,100.3 595.8,100.2 592.8,100.7 589.4,100.3 586.8,99.8 585.2,100.2 583.3,100.3 580.9,99.7 578.2,99.9 575.7,99.9 573.5,99.4 570.8,99.1 568,99.2 565.3,99.6 562.1,99.9 558.8,99.9 556.5,99.8 554.8,100 552.8,100.3 549.8,100.7 546.9,100.5 544.5,100.2 541.6,100.6 539,100.3 536.6,99.6 534.1,99.6 532,100.1 529.8,100.2 527.4,100 525,100 522.5,100.2 519.5,100.2 516.7,100.4 513.8,100.1 510.9,99.9 509.2,100.1 507.3,100.1 504.5,100.1 501.8,100.5 499.3,101 496.7,100.4 494,99.9 491.2,100.1 488.7,99.3 486.7,99.2 485,100 482.8,99.5 480,98.8 477.5,99.1 475.2,100 472.2,100.2 468.5,99.2 466.1,98.7 464.7,98.6 462.9,98.7 460.6,99.3 457.3,100.2 454,100.9 451.7,100.9 449.6,100.8 446.7,100.8 444.1,100.9 442.2,100.4 439.4,99.6 436.7,99.6 434.7,99.6 431.5,99.7 428.5,100.4 426.4,100.1 423.7,99.5 420.8,100 418.6,100.3 416.5,100 414,99.6 412,99.2 410.2,99 408,99.3 405.4,99.9 402.3,100.1 399.2,99.9 396.5,100.2 393.6,100.5 390.9,100.9 388,100.9 385.8,100.5 384,100.6 381.3,100.3 379,99.7 376.2,99.2 373.3,99.2 371.1,99.6 368.7,99.1 366.9,98.6 364.6,99 361.5,99.5 358.3,99.4 355.6,99.6 353.3,100.2 350.7,99.8 348.8,99.5 347.1,100.4 344,101 340.9,100.5 338.9,100 336.6,100.2 333.8,100.6 331.5,100.9 328.9,100.5 326.1,100 323.4,99.9 320.6,99.3 318.4,99.1 316.4,99.5 313.9,99.6 311.3,99.7 308.3,100.1 305,100.5 302.9,100.5 301.6,100.8 299.7,100.9 297,100.5 293.7,100.4 290.1,100.1 287.2,99.5 285,99.4 283.3,100.3 281.6,101 279.1,100.5 275.7,99.9 272.6,99.8 269.9,99.7 267.2,99.9 264.8,100 262.9,99.4 260.6,99.6 258.4,99.7 256.3,99.6 253.6,99.9 251.2,99.7 248.2,99.4 244.8,99.6 242.2,99.9 240.8,100.1 238.5,100.2 235.4,100.3 232.9,100.4 230.5,100 228.5,99.4 226.5,99.5 223.6,99.4 220.1,99.8 217.7,100.5 216.4,100.5 214.5,100.1 211.6,99.7 208.1,99.6 204.7,99.3 202.8,99 201.1,98.8Z" fill="#7ac55a"/>
<path d="M197.2,100.5 198.6,102.8 199,105.8 197.8,108.4 197.3,110.2 198.1,112.1 198.1,114.2 197.6,116.3 197.7,119.3 197.3,122.6 197.4,124.6 198.4,126.9 198.4,130.3 197.8,132.9 198,135.3 198.6,138 198.4,140.4 197.9,142.2 197.2,144.7 196.8,147.3 197.2,149.7 197.9,152.7 198.1,155.2 198.1,157.3 198.2,159.1 198.3,161.2 198.2,164.2 198.2,168 198.5,171.3 198.6,173.5 199,175.1 199.3,177.1 199.1,180.1 198.8,183 198.6,185.6 198,188 197.3,190 197.3,191.7 197.7,193.8 197.8,196.5 198,199.4 198.3,202.5 198.2,205.2 197.8,207.3 197.4,209.7 197.6,211.8 198.5,214.4 198.6,217.6 197.9,220 197.5,222.5 197.7,225.1 198,227.3 198.4,229.4 198.7,232 198.9,234.9 198.9,237.5 199,240.3 198.9,242.8 198.3,244.5 198,246.9 198.1,250 198.1,253.2 198.3,255.3 198.2,257.1 198,259.3 198,261.7 197.4,264.3 196.9,266.5 197.2,269.1 198.1,272.3 198.4,274.8 198.1,277.1 198.7,279.8 199.3,282.4 198.7,284.8 197.5,287.2 197.4,290.1 197.9,292.4 197.5,294.3 197.7,297 198.7,299.7 201.5,299.8 204.2,300.1 206.4,299.8 208.3,299.3 210.6,299.2 213,300 215.9,300.5 219.2,299.6 222,299.3 224.3,299.9 226.7,300 228.9,299.3 231.1,299.3 233.9,299.7 237.2,299.3 240.4,299.2 242.9,300 245.5,300.5 248.5,300.3 251,299.6 253.4,298.4 255.8,298 257.6,298.3 260,298.3 263.1,298 266.3,297.4 269.2,296.6 271.1,296 273.2,295.4 276.3,295.4 278.7,296 281,296.4 284.3,297.4 287.4,297.7 290,297.2 292.2,297.8 294.3,297.5 297.1,296.7 299.8,296.9 302.5,297 305.1,296.6 307.3,296.1 309.7,295.9 312.1,295.9 315,296.3 318.5,296.4 321.7,296.4 324.4,297.2 327.4,298 330.1,298.3 332.3,298.7 335,299.2 337.9,300.2 340.6,300.9 343.2,301.2 346.2,300.8 349.7,300 352.4,299.3 354.4,299 357,298.9 359.3,299 361.7,298.6 364.4,298.6 367,298.9 369.4,298.7 371.8,299.2 374.2,299.5 377,299.7 380,300 382.7,300.5 385.2,300.9 387.9,300.6 391,300.4 393.7,300.2 395.9,300.4 398.5,300.6 401.3,299.8 403.4,300.1 405.3,301.1 407.2,302.1 409.3,303.3 411.8,302.2 414.7,300.6 417.2,300 419.5,299.9 422.1,298.9 424.3,297.8 426.7,296.2 429.8,294.7 432.6,294.4 434.9,293.2 437,291.2 439.8,289.9 441.8,288.9 443.9,287.3 446.3,285.6 448.6,284.4 450.6,285.1 452.4,284.9 455.4,284.4 458.5,284.6 460.7,285.4 463.1,286.2 466.4,286.5 469.9,285.9 472.5,286 474.2,284.9 476.9,284.3 480.2,282.7 482.7,279.6 485.1,277.4 487.1,275.8 488.1,274 489.7,272.1 492,270.8 494.2,268.7 496.7,267.6 499.1,267.3 501.3,266.6 504,266.2 507.4,265.8 510.2,264.7 511.8,264.5 514.3,265 517.2,265 519.2,264.2 521.6,263 524.5,262.8 527.4,263.2 530.3,263.1 531.9,260.7 533.3,257.7 534.4,255.3 536.1,253.4 538.4,252 540.3,250.4 541.8,248.3 542.9,245.9 544.6,244.2 546.1,242.6 546.9,240.2 548.6,236.9 551.3,234.7 553.4,232.7 554,229.8 554.4,227.5 555.1,225.1 555.8,222.4 556.1,220.6 556.7,218.8 557.9,216 559,213.1 559.6,211 559.8,208.8 560.4,205.4 561.7,202.8 563.2,201.6 564,199.6 564.7,196.2 566,193.5 566.7,191.8 567,190.1 567.5,187.7 567.9,184.8 568.5,181.7 570.1,179.4 572.4,177.9 573.6,175.5 574.2,172.3 575.1,169.6 575.7,167.7 576,165.6 576.3,163 577.4,160.3 578.6,158.1 579.5,156.8 580.3,155.2 581.1,152.8 581.9,150 582.5,147 583.4,144.6 584.5,142.6 585.1,140.6 585.4,138.2 586.5,135.9 587.9,134.1 588.5,131.4 589.8,128 591.4,125.2 592.2,122.9 593,120.8 594.1,118.6 594.9,116.5 595,113.7 595.7,111.2 596.5,109.4 596.8,106.6 597.7,104.1 598.8,101.8 600.1,99.5 598.2,100.3 595.7,100.3 592.9,99.7 589.9,99.6 587,99.5 585.2,99.4 583.3,99.2 580.4,99.3 577.5,99.8 574.8,100.2 572,100.6 569,100.7 566.8,100 565.1,99.4 562.2,99.6 559.2,100 557.4,99.7 555.5,99.2 552.5,99.2 549.7,99.9 547.5,100.4 544.6,100.4 541.9,100.4 539.4,100.3 536.4,99.9 533.8,99.6 531.2,99.8 528.5,100 526.3,99.5 524.6,99.4 522.3,99.4 519.7,99.3 517.6,99.3 514.8,99.4 512.3,99.5 510.3,99.1 507.6,99 504.8,99.2 502.6,99.6 499.9,100.4 496.5,100.9 493.8,100.5 492.2,99.5 490.1,99.1 487,99.5 484.1,100.1 481.7,100.8 479.3,101.1 477.2,100.5 474.9,99.1 471.8,98.7 468.7,99.3 466.5,99.4 464.3,99 461,99.1 458.2,99.6 456.6,100.1 454.9,99.7 452,99.2 448.6,99.6 446.1,100 444.7,99.6 442.7,99.4 439.6,99.3 436.6,99.8 433.9,100.8 430.8,100.9 428.1,100.4 426.5,100.3 424.3,101 421,101.2 418.4,100.4 416.9,99.3 414.5,99.1 411.1,99.7 408.5,100.3 407.1,101 405.4,101.3 402.6,100.7 399.1,100.2 396.1,100.7 394.1,100.2 392.2,99.1 389.8,99.5 387.1,100.7 384.5,101 382.1,100.8 379.2,100.1 376.4,99.7 374.3,100.2 372,100.2 369.6,100.3 366.9,100.3 364.1,100 362.1,100.4 359.6,101 356,100.8 353,100.4 351.1,100.2 349.4,99.6 347.1,99.4 344.4,99.2 341.8,99.1 339,99.1 336,99.5 333.6,100.6 331,100.9 328,99.9 325.4,99.1 323.4,99.5 321.4,100.1 318.7,99.6 315.5,99.1 312.9,99.6 311.4,99.8 309.5,99.4 307,99.5 303.9,100.2 300.4,100.4 297.8,100.4 295.6,100.5 293.4,100.2 291.1,99.9 287.8,99.9 284.9,100.4 282.6,100.1 279.8,99.8 277.4,100.5 275.8,100.6 273.7,100 270.7,100.7 267.7,100.9 265.6,100.4 263.3,100.5 260.3,100.6 257.4,100.2 255,99.7 252.9,99.9 250.6,100.6 248.4,101.1 245.9,100.6 243.1,99.7 240.5,99.9 238.1,100.2 235.7,99.3 233,99.3 230.8,100.5 228.8,100.9 226.3,100.4 223.7,99.9 221.7,100 219.4,100.1 216.3,99.8 212.9,100.2 210.2,100.5 207.8,100.5 204.8,100.8 201.9,100.9 199.2,100.8Z" fill="#4cb848"/>
<path d="M197.1,99.4 197.2,102.2 197.4,104.6 198,106.9 199.1,109.9 199.8,112.9 199.8,115.7 199.8,118.3 199.7,120.1 199.3,122.6 198.3,125.5 197.3,127.2 197.3,129.4 197.4,132.4 197.6,134.8 198.3,137.6 197.9,140.7 196.8,143 196.8,145.5 197.4,147.9 198.2,149.8 199,152.1 198.7,154.8 197.6,158.1 196.7,161.6 196.8,164.7 198,166.7 198.4,167.8 198.1,170.4 197.9,173.5 198.3,176.2 198.3,179.2 197.2,181.8 197.2,183.7 198.1,185.3 197.7,188 197.4,191.7 197.4,194.5 197.8,196.8 197.9,199.7 197.5,202 197.9,204 198.4,206.5 198.1,208.5 198.2,210.8 198.1,214.6 197.7,217.9 197.1,219.8 197.2,221.5 198.1,223.7 198.3,225.7 197.5,228.2 197,231 198,233.6 198.6,236.3 197.6,238.9 197.2,241.7 197.7,244.8 197.1,247 196.4,248.5 196.8,250.5 198.2,253.1 199.3,256 199.1,258.9 198.9,262 199.3,265.4 198.9,267.9 197.7,269.1 198,271.2 199.4,273.7 199.6,276 198.9,278.7 198.3,281.2 199.9,281.8 201.8,282.1 204.4,282.3 207.4,282.7 210.7,281.5 213.7,280.2 216.5,280.2 218.6,281.1 219.7,282.4 221.5,282.5 224.3,282.2 227.9,282.1 231.4,281.2 233.9,280.9 236,281.7 237.7,282.2 240.4,282.2 243.6,282.1 245.9,282.5 248.7,282.6 251.5,282.3 253.3,281.7 254.9,281.1 258.1,281.9 261.7,282.1 263.4,280.8 265.9,280.4 269.4,280.7 271.9,281.1 274,282 276.3,281.7 278.1,278.6 280.1,279.5 282.2,279.6 284.5,277.9 287.4,277.6 290.4,278.8 292.3,279.4 294.8,278.7 298.9,277.8 302.8,277.4 305.5,277.8 307.8,278.1 309.9,277.6 312,277.8 314.5,278.2 317.2,279.2 320.1,279.6 322.6,279.1 324.9,278 327.9,278.1 331.2,278.8 334.1,277.8 336.2,276.3 338.3,276.2 343.6,276.7 347.9,278.2 351.2,280 352.6,282.1 353.8,282 356.7,281.5 360.2,281 362.1,281.2 364.9,280.9 369.3,279.7 373.4,279.3 376.5,279.1 378.5,278.1 380.6,276.7 383.5,274 386.7,271.5 389.7,271.8 392.4,272.1 394.9,272.1 397.5,272.2 399.8,272.6 402.1,273.3 405.3,273.7 408.5,274 410.3,274.5 411.8,274.1 415.3,273.7 419.3,273.9 421.8,274.1 424.2,271.9 427.2,269.8 429.6,269.2 431.6,267.5 435.1,266.9 437.9,268.1 440.1,267.6 441.8,263.3 443.4,259.9 440.5,257.4 437.1,254.6 438.6,252.5 440.6,250.9 442.6,249.6 445.4,247.5 448.7,246.6 451.5,246.5 453.8,247.1 455.2,247.2 457.6,247 461.2,247.4 464.8,247.2 468.2,245.2 471.4,244.2 473.8,244 475.9,242.7 478.9,241.5 481.6,241.1 483.9,240.3 486.8,239.4 489.9,238.5 489.7,241.5 490.7,241.3 493,241.8 497.1,243.5 500,244.8 502.1,245.4 503.7,248.6 504.6,250.6 504.9,247.2 506.4,245.6 509.2,244.3 510.9,242 512.3,240.7 515.2,240 517.7,237.8 520.9,237.1 523.4,237.6 524.9,236.6 527.6,235.9 530.9,236.1 533.5,236.8 535.4,237.8 537.2,237.4 539.5,233.9 542.3,231.2 544.4,230.1 546.2,230 547.9,229.2 549.8,226.4 551.4,223.8 553.9,222.5 556.3,220.6 557.2,219 558.6,217.6 560.9,215 563.6,212.2 567.3,210.8 569.8,209.2 571.4,206.6 572.3,205 574.1,204.2 577.2,201.6 579.9,199.3 581.3,198.8 583.3,198.2 586.6,197.3 590,196.4 593.5,195.9 595.9,194.7 597.6,192.7 600.1,191.7 600.8,189 601.7,186.6 601.8,184.9 601.4,182.3 602.1,179.2 603,176.7 603.7,175.6 604.6,173.9 605.2,170.1 605.4,166.7 606.2,164.6 607.4,162.2 607.4,159.3 606.7,156.2 606.7,154 608.2,152.7 609.8,150.6 610.4,148.2 611.5,145.4 612.5,142.4 612.2,139.6 612.1,137.1 612.8,134.9 613.7,132.7 614.5,130.2 614.7,127.1 615.1,123.9 615.8,120.8 615.8,118.1 615.7,115.7 616.5,113.5 617.4,111.6 618.5,110 618.9,107.7 618.4,104.9 618.6,102.6 619.8,100 618.2,100.1 615.4,99.8 612.9,99.4 611.2,99.8 609,99.3 606,98.4 602.4,98.9 598.9,100.2 596.2,101.2 593.7,101.1 591.6,100.3 589.6,100.1 587.8,100 585.9,99.6 582.6,99.4 578.8,100 576.4,100.5 574.8,99.8 572.4,100 569.6,100.8 567,100.7 564.7,100.7 562.6,100.3 559.6,99.9 556.3,100.5 553.9,100.4 551.7,100.5 549.5,100.5 547.5,100 545.7,100.6 543.7,101.1 540.8,100.7 537.6,100.4 534.3,100 531.5,99.5 529.3,100.3 526.5,100.9 524,100.5 521.8,100.6 519.5,100.7 517.6,100.5 515.5,100.6 512.6,99.8 508.9,99.2 506.2,99.9 504.1,100.2 502.1,99.5 499.9,99.9 497.8,100.2 495.4,99.7 492.1,100.1 489.3,99.9 487.3,99.8 484.5,100.4 481.9,100.1 479.7,99.2 476.2,98.9 473.1,99.9 471.9,101.3 470.6,101.8 468.4,101.2 465.5,100.9 462.4,101.1 459.2,100.7 455.9,99.3 453.2,99.2 451.6,99.8 449.9,99.3 447.7,99.4 445.6,100.3 442.9,101 439.7,100.4 436.8,99.1 434.5,98.7 432.8,99.5 429.9,100 426.7,100.1 424.8,99.7 422.2,99 419.2,99.6 416.8,100.3 414.3,99.6 411.9,98.7 409.4,99.4 407.2,101 405.5,101.2 402.8,100 399.2,99.4 396.4,99.9 394.5,101.1 391.6,101.8 388.2,101.8 385.7,101.5 383.6,100.4 381.1,99.8 378.1,100.2 375.3,100 372.8,100 370.6,99.4 369.1,99 367.3,99.6 364.7,100.1 362,100.2 359.4,99.9 356.2,99.9 353.6,99.5 351.2,98.7 348.5,98.8 346.9,99.6 345.3,100.7 342,101.4 338.6,100.9 336.3,99.4 333.1,98.9 330.1,99.2 328.3,99.1 325.5,99.4 322.8,99.7 321,99.2 318.8,99.1 316.2,99 313.7,99 311.6,99.3 309.5,100.2 307,101.2 304.6,100.9 301.9,100.6 298.9,100.7 295.8,99.7 292.3,99.2 289.5,100.3 288.1,101 286,100.8 283.5,100.5 281.4,100.3 278.4,100.4 275.6,101.1 273.8,101.4 271.5,101 267.8,100.9 265,100.9 263.2,100.9 260.5,100.9 257.4,100.9 255.2,100.7 253.7,100.1 251.2,99.9 248.1,100.2 245.7,100.6 243.5,101.2 240.5,100.8 237.7,99.9 235,100.1 232.6,100.2 230.8,99.4 228.9,99.5 226.4,101 223.3,101.8 219.7,101.1 217.5,99.9 216.2,99 212.8,99 209.1,99 206.9,98.8 205,99.1 202.8,99.5 199.9,99.4Z" fill="url(#stripe)"/>
<path d="M424.6,204.9 427.9,205.2 431.5,204.3 431.5,206.6 431.1,209.6 431.3,212.4 431.7,215.1 431.4,217.9 431.3,220.8 432,223.7 432.3,226.4 432.1,228.9 432.1,231 432.2,233.3 432,235.4 432.2,237 432.6,239.5 432.3,242.8 432.2,244.8 435.8,244.9 439.6,245.7 442.2,245.9 444.7,246.7 442.3,248.7 439.6,250.1 436.6,250.1 433.7,250.1 430.8,250.2 428.3,250.1 426.1,250.2 426.7,248 426.8,245.3 426,242.3 424.9,239.8 424.6,236.9 424.7,234.5 424.8,232.5 425,229.6 425.1,226.8 425.6,224.4 426.2,222.1 426,219.4 426.1,217.4 426.2,215.6 425.7,212.8 425.4,209.6 424.9,206.7Z" fill="#4cb848"/>
<path d="M432.5,245.2 434.2,243.9 436.5,242.6 438.1,239.9 439.7,236.9 442.1,235.2 443.7,234.1 444.6,231.8 444.7,229.1 445.3,227.2 446.2,224.5 447.5,221.5 449.7,219.7 451.4,217.4 453.9,215.3 456.7,213.6 458.9,216.1 460.8,218.6 462.3,221.2 462.5,224.7 463.8,227.7 465.5,230.5 466,233.8 463.8,237 462.8,239.6 461.9,242.3 459.6,243.8 457.2,244.9 454.5,245.7 452,245.6 449.4,246.2 446.7,246.3 444.6,246.2 441.4,246.5 438.2,246.2 435.7,245.6Z" fill="#4cb848"/>
<path d="M496.1,225.1 497.5,222.3 498.8,219.9 500.1,217 503.5,215.7 506.3,215 508.3,215 510.3,214.5 512.8,214.2 516,214.4 519,214.8 521.3,215.2 521.7,218.2 522.1,220.2 518.7,220.1 515.5,220.9 513.1,221.5 510.9,221.8 508.5,222.6 505.5,224.1 502.3,225.6 499.6,226.2 497.3,227.1Z" fill="#4cb848"/>
<path d="M540.7,240.7 541,237.3 541,233.9 541.3,231 542.3,228.1 542.7,225.2 544.9,223.6 547.3,222 549.9,220.4 552.3,218.4 555.4,217.3 557.9,219.9 559.4,221.7 557.5,223.8 556.7,226.7 555.6,229.1 553.4,230.1 551.6,231.6 551.6,235.1 551.3,237.6 551.4,239.3 548.2,239.5 545.2,240.3 543,240.6Z" fill="#4cb848"/>
<path d="M551.8,221.8 554.3,220.1 555.7,217.3 557.4,215 560.4,214.2 563.8,213.5 565.7,211.4 567,209.1 568.6,207.1 571.3,205.6 574.4,204.4 576.6,206.8 577.9,209.5 580.1,212.8 582.7,214.8 585,215.6 588.1,216.1 586.3,217.8 584.7,219.6 583.6,221.7 582,223.8 579.9,225.9 577,226.3 574.6,226.5 572.3,227.2 570.5,227.8 568.3,227.3 565.6,226.6 563.2,227.1 561.1,228.6 559.1,227.3 556.5,225.1 553.7,223.2Z" fill="#4cb848"/>
<path d="M559.5,204 561.5,203.5 562.5,205.5 561,207.5 559.3,206.5Z" fill="#4cb848"/>
<path d="M467,256 471,254.5 474,257 473,261 469,262Z" fill="url(#stripe)"/>
<path d="M473.3,286.5 475.3,284.3 476.5,282.1 477.7,280.1 479.9,277.7 482.3,274.9 484.1,272.1 485.4,269.8 486.7,267.8 489.6,264.9 492.3,264.9 495.2,264.9 498.7,265.1 501.5,265.5 504.6,265 507.8,264.1 510.7,263.1 514.3,262.4 513.3,264.5 512,267.3 510.6,270.5 508.7,272.3 505.9,273.7 504,276.3 502.5,279.9 500.5,283 499.2,286.1 498.3,289.5 495.8,289.6 493,289.6 490.4,290.4 487.5,290.8 485,290.6 483.2,290.7 480.4,291.1 477.3,289.1 475.2,287.8Z" fill="#4cb848"/>
<path d="M495.3,283.4 493.8,278.1 494.5,275 495.4,272.7 498.1,271.1 501.4,269.5 504.3,270.6 502.7,273 502.2,275 500.9,277.8 498.5,281.6Z" fill="url(#stripe)"/>
<path d="M49.8,101.2 52,101.4 54,101.2 56.2,100.5 58.6,100 61.6,100.6 65.3,100.6 68.4,100.1 70.3,100.7 72.2,101.2 74.9,101.2 77.4,100.6 79.9,99.4 82.6,99.4 84.7,100 86.6,99.6 88.9,99.7 92.1,100.6 95.5,100.7 98,100 100.3,99.9 102.5,100.6 104.5,101.1 107.1,100.5 109.7,99.6 112.2,99.2 114.5,99.4 116.7,100.1 119.1,100.2 121.8,99.9 124.7,100.3 127.9,100.4 131,100.2 133.7,100 135.9,99.5 137.6,99.2 139.9,99.8 142.6,100.6 144.6,101.1 146.7,101.2 149.5,100.3 152.8,99.9 156,100.2 158.1,100.5 160.1,101 162.9,100.8 165.6,99.3 167.7,98.6 170.2,99.1 172.9,99.9 175.6,100.2 178.5,100.1 180.9,99.9 182.7,99.7 184.9,99.2 187.7,99.4 190.9,99.9 193.3,99.4 195,99.3 197.1,100.3 199.7,101.2 202.7,101.4 205.5,101.1 207.8,100.3 210.3,99.1 212.4,99.1 214.3,99.9 217.2,100.4 220.5,100.2 223.3,99.6 225.5,99.5 227.7,99.6 230.8,99.7 233.7,99.5 235.8,99.9 237.9,100.8 239.5,101.2 241.5,101.1 244.3,100.5 247.6,100 250.5,100.1 252.9,100.2 255.8,100.1 258,100.1 259.2,99.9 261.8,100 265.4,100.4 268.1,100.8 268.2,103.7 268,106.3 266.9,108 266.7,109.6 267.8,112.2 268.1,115.2 267.5,118.3 266.9,120.6 266.7,122 267.4,124.3 267.9,128.1 267.9,130.9 267.4,132.7 266.5,134.9 266.1,137.3 266.8,139.8 267.3,142.8 267,145.7 266.4,148.2 265.8,150.1 265.5,152.3 265.5,155.3 265.8,158.3 266.5,160.8 266.8,163.6 266,165.7 265.7,167.3 266.6,169.7 266.7,172.1 265.8,174.8 265.3,177.5 265.2,179.7 264.7,182.7 264.7,185.6 265.1,187.9 264.9,190.4 265,192.7 265.6,194.8 265.5,197.9 265.4,201.5 265.6,204 265.8,206.4 266,209.4 265.4,212.1 264.3,214.3 263.9,216.4 263.1,218.7 262.6,220.9 262.5,223.6 262.2,226.6 262,228.8 262.4,231.5 263.2,234.7 263.2,237.3 262.5,239.7 262.3,241.4 262.4,243.7 261.6,247 260.8,250.3 260.6,253.3 260.5,256.1 258.3,256.2 256,256.4 252.5,257 249.5,257.1 247.6,256.8 245.2,256.6 242.2,255.9 239.7,256.4 237.8,257.7 235.3,257.6 232.4,257 230.3,257.2 228.2,256.6 225.6,255.5 222.5,255.2 219.2,254.6 215.7,254.4 213.1,254.3 210.9,253.6 210.6,255.7 210.7,258.1 211,260.9 210.5,263.5 209.9,265.8 209.3,268.4 209,271.2 209.2,274.2 208.2,277.3 207.2,279.6 207.3,281.5 207.1,284.3 206.7,287.3 206.3,289.4 206.2,291.7 206.6,295.3 206,299.1 205.1,302 205,304.1 204.9,306.1 204.7,308.6 204.7,311.9 204.6,314.5 204.8,316.6 204.6,319.1 203.7,321.3 203,323.7 203.5,326.4 204,329 203.1,331.5 201.7,334 201,336.2 201.1,338.2 201.9,341.2 202.1,344.7 201.5,347.3 200.8,349.8 200.2,352.4 199.8,354.3 199.4,356.7 198.7,359.8 197.7,363.1 197.3,365.7 196.9,367.9 196.1,370.2 196.2,372.9 196,376.1 195.1,378.8 192.9,378.5 191,378.1 188.9,378.2 186.4,378.4 183.4,378.4 180.4,378.3 177.7,378.1 175.1,378.1 172.7,377.9 170.2,377.6 168,377.4 165.4,377.9 162.6,378.2 160.3,377.3 158.3,377.2 156.1,377.9 153.6,378.4 150.5,378.6 147,378.6 143.8,378.6 141.3,378.1 139.2,377.6 137,377.6 134.4,377.3 132.4,377 130.5,378 128,378.7 125.5,378.5 122.7,378.5 119.8,378 116.9,377.4 114.4,378.1 112.1,378.9 109.3,378.5 106.5,378.1 104.6,378.6 103.2,378.9 100.8,379.1 97.3,379 94.8,378.4 93.2,378 90.8,377.9 88.5,378 86.2,378.1 83,378.1 80.2,378.4 78.4,378.1 75.7,377.9 72.4,378 70.5,377.9 67.9,377.7 64.7,377.7 62.1,377.9 59.9,378 57.7,378.6 54.7,379.1 52.1,378.9 50.2,378.4 49.8,375.2 49.5,372.5 49.8,370 49.7,368.3 49.8,365.9 49.7,362.7 49.7,359.8 50.6,357.4 50.3,355.6 49.8,353.1 50.4,350 50.8,348.1 50.8,345.9 50.4,343.1 49.5,340.6 49.2,337.5 49.6,334.1 50.6,332.1 51,330.2 50.6,327.9 50.7,325.7 50.9,322.8 50.4,319.9 49.7,317.9 50,315.1 50.3,311.8 49.5,309.1 49.5,307.1 49.9,305.1 49.3,302.9 49.2,300.2 49.6,296.9 49.5,294.5 49.2,293 49.3,290.7 49.5,288.5 49.3,286.2 49,283.5 49.4,280.6 49.8,277.3 49.7,274.6 49.5,273 49.3,271.5 49.6,268.7 50.1,265.4 50.3,262.6 49.7,259.9 49.7,257.2 50.1,255.2 49.6,253.3 49.6,250.5 49.8,247.3 49.4,244.8 49.3,242.7 49.4,240.1 48.9,237.7 48.7,234.9 49.2,231.7 49.4,229.2 49.7,227.5 50.1,225.7 50.1,222.7 50.2,220 50.4,217.8 50.8,215.2 50.9,213.3 50.6,211.4 50.4,208.3 49.9,205 49.6,203 50.2,201.1 49.9,198.4 49.5,195.2 50,192.2 50.6,190.2 50.7,187.9 50.2,185.4 50.2,182.8 51,179.8 51.2,177.3 50.7,175.6 50.1,173.8 50,171.5 50.6,168.4 50.8,165 50.4,162.3 50.3,160.1 50.3,157.2 49.9,154.3 49.4,152.4 49.2,150.6 49.8,148 50.2,145.9 49.4,143.5 48.9,140.7 49.6,138.6 50.4,135.8 50.4,132.2 49.5,130.2 49.4,128.2 50.2,125 50.6,121.9 50.6,119.7 50.5,117.9 50,115.5 49.6,112.8 50.4,110.6 50.6,108.2 49.7,105.4 49.5,103Z" fill="#acd66e"/>
<path d="M69.7,120.5 72.6,120.6 75.8,120.6 78.2,121.3 79.9,121.6 82.1,121.7 84.7,121.9 87.1,122.4 89.6,122.6 92.2,122.1 94.7,122.5 97.1,123.5 99.7,124.1 102.3,123.8 104.6,123.1 107.5,123.3 108.3,126.3 108.8,128.9 109.7,132.1 109.9,135.4 108.7,137.1 108.1,139.4 106.9,142.5 105.3,145.5 106.2,147.9 108.1,149.9 110.4,152.2 111,155.1 111.3,158.4 111.8,160.8 109.1,161.7 107.4,163.5 106.4,165.8 104.4,168 101.1,170.3 98.3,172.1 97.5,174.3 97.2,177.4 97.5,180.4 97,182.3 96.3,184.4 96.2,187 95.4,189.7 94.9,191.7 95.2,194.1 95.3,197.1 95.1,200.3 95.5,203.6 95.7,206 95.5,208.4 95.8,211.1 93.9,211.6 91.4,212.4 88,212.6 85.1,212.3 82.7,211.7 80,211.2 78,211.2 75.7,211.7 72.8,212.2 70.6,212.1 70.9,208.9 70.2,206 69.4,203.9 69.3,201.8 70,199.3 70.5,197.5 69.9,194.8 69.8,190.9 70.1,188.2 69.8,186.2 70,183.6 70.5,181.2 70.1,178.8 69.8,176.1 69.9,173.3 70,170.6 70.4,168.8 70.8,166.4 70.9,162.8 70.4,160.4 69.4,158.5 69.5,155.3 70.2,152.7 70.7,151.3 70.7,149.5 69.9,146.5 68.9,142.6 68.6,139.2 69,136.5 69.6,134.2 69.4,132.6 69.4,131 69.9,128.2 69.5,124.7 69.4,122.4Z" fill="#e6c85e"/>
<path d="M87.8,120.6 89.6,119.9 91.8,119.6 94.5,120.4 97.1,121.3 100,121.9 103.8,122.3 106.6,122 108.3,122.1 110.4,122.7 113.3,122.9 116,122.9 118.5,123.2 118.7,126.6 118.4,129.8 117.3,132.6 117.3,135.8 117,138.1 116.2,140 115.8,142.3 115.1,144.6 114,147.2 112.9,150.7 112.6,154.3 112.4,157.2 112,159.2 110.4,160.7 108.3,163.2 106.2,164.8 104.3,166.5 101.8,165.1 99.9,162.7 98,161 95.5,160 93.1,157.4 91.2,154.4 89.7,151.8 88,149.7 88,147.2 88.3,144.2 88.2,142.1 87.4,140.8 87,138.3 87.2,134.9 87.5,131.9 87.9,129.5 88.2,127 87.8,125.1 87.7,123.4Z" fill="#e6d070"/>
<path d="M54.1,204.6 56.9,205.1 60,206.1 62.5,206.2 64.9,206.8 67.6,208.4 69.7,209.8 72.1,210.2 75,210 77.3,210.3 80.2,211.5 82.8,213.3 84.8,213.9 87.6,213.7 90.2,214.6 92.5,215.8 94.9,216.5 96.9,216.9 99.7,217.3 102.9,217.4 105.3,217.7 107.6,218.7 109.8,219.8 112.1,220.7 111.5,223.6 111,225.5 110.5,227.6 109.7,230.8 108.6,233.9 107.4,236.3 107,238.7 106.8,241.5 105.6,244.1 104.2,246.7 103.2,248.7 102.6,250.4 102.7,252.5 101.9,255.1 102.7,257.5 104.2,259.7 105.6,261.7 107.4,263.6 109.5,265.7 111.3,268.5 112.7,270.9 113.6,272.4 114.6,274.2 115.6,277 116.4,279.5 118,281.8 120.8,284.4 122.9,286.8 123.7,288.6 124.3,290.7 125.6,292.9 126.8,294.7 128.5,296.2 130.9,297.9 132.2,300.1 132.9,302.3 134.7,304.3 136.5,306.4 137.2,308.3 137.7,310.7 139.2,313.4 140.8,316 141.5,318.6 142.2,321.4 143.4,324.2 144.3,326.2 145.1,327.8 144,330.9 142.9,333.8 142.1,335.4 141.4,337.4 140.4,340 139,343.5 137.2,347.1 135.5,349.4 132.9,349.1 130.4,349.4 128.4,351.1 126.4,353 123.9,353.9 121.3,354.7 119.1,355.7 117.5,356.8 115.8,358.5 112.8,359.4 109.3,359.6 106.4,359.7 104.5,360.5 102.5,360.7 99.9,360.3 97.8,359.4 95.9,358.9 93.2,359.2 90.1,360.2 87.2,360.8 84.8,360.5 82.6,360.1 80.3,360.1 77.8,360.7 75.3,360.9 73.1,360.4 70.2,360.2 67.1,360 64.5,360 62.3,360.1 60.1,359.6 57,359.9 54.4,360.7 54.9,357.9 54.8,354.6 54.6,351.8 54.7,349.8 54.4,347.9 54.2,345.6 54.2,343.2 54.6,340.7 55.1,337.5 55,334.6 55.4,332.9 56,331 55.9,328.5 55.5,326 55.1,322.9 55,319.6 54.9,317.1 54.5,314.8 54.4,312.8 55.1,310.8 55.9,308 56.3,304.6 56.1,301.8 55.3,299.6 54.7,297.9 54.6,295.6 54.8,292.8 55.5,290.3 55.6,287.9 54.9,284.9 54.9,282.3 55.4,280.7 54.9,278.3 54.4,275.3 54.9,272.4 54.7,269.4 54.6,266.5 55,264.2 54.6,262.7 54.3,260.4 54.6,257.1 54.5,254.3 54.5,252 55.1,249.8 55.7,247.5 55.4,244.6 55.2,241.8 55.8,239.9 56.3,238.2 55.6,235.3 54.8,231.8 55.3,228.8 55.9,226.6 55.7,225 55.7,222.6 55.2,219.4 55,217.2 55.7,215 55.6,212.2 54.8,210.3 54.5,208Z" fill="#f2b476"/>
<path d="M55.1,205.2 57.5,206.3 60.5,206.8 63.3,207.5 65.4,208.4 67.7,209.3 70.5,209.7 73.5,209.3 76.1,209.9 77.9,211 79.6,211.6 81.6,211.8 84.4,212.3 87.2,214 89.9,215.4 92.1,215.5 94,215.5 96.6,216.5 99.8,217.2 102.6,217.3 104.8,218 106.7,219.3 108.9,220.3 111.1,220.9 110,222.5 109.3,225 108.9,228.5 108.2,231.2 106.7,233.2 105.4,235 103.2,233.3 101,232.1 98.5,231.8 96.1,231.2 93.4,230.1 90.3,228.6 87.8,227.7 85.5,227.2 82.6,226.6 80,226.4 77,227 73.8,226.9 71.5,226.7 68.7,227.2 65.7,228.2 63.8,228.2 61.6,228 58.8,228.5 55.8,229.1 54.8,226.2 54.2,224.2 54.9,223 55.8,221.1 55.3,218.1 54.7,214.8 55.3,212.5 55.7,210.2 55.3,207.3Z" fill="#e8ca5a"/>
<path d="M54.8,228.6 57.4,228.3 60.4,227.9 63.4,226.9 66.3,225.9 68.7,225.5 70.9,225.5 70.8,227.8 70.3,230.1 69.6,233.3 69.6,236.8 69.8,239.5 70.3,241.5 69.9,243.9 68.9,246.8 69,249.8 70.3,252.9 70.8,255.8 71,259.2 71.5,262.3 71.8,264.2 72.3,266.6 72.9,269.7 73.3,272.8 73.9,275.8 74.2,278.2 74.4,280.2 74.8,282.8 75.4,285.7 75.9,287.8 76.1,289.6 76.3,292.1 77,294.9 78.4,298.2 78.3,301.1 77.1,302.9 75.7,304.5 74.9,306.7 74,309.3 70.7,310.1 68,310.3 65.4,309.9 62.6,309.7 60,309.2 57.2,309.4 54.4,310.2 54.8,307.4 54.7,305.2 54.4,303.3 54.5,300.5 54.6,297.3 54.7,294.4 54.9,291.6 55.3,289.1 54.9,287.1 54.2,284.8 54.5,282.2 55.2,279.2 55.2,276.1 55.6,273.2 56.1,270.9 56.2,269 55.7,266.5 55.1,264.1 54.6,261.9 54.2,258.8 54.1,255.6 54.7,252.9 55.5,250.3 55.8,247.9 55.6,245.7 55.5,243.2 55.2,241 55.1,238.6 54.5,235.8 54.1,233.2 54.6,231Z" fill="#ecda82"/>
<path d="M113,220.9 112.1,224.4 111.2,226.8 109.6,228.1 108.2,230.1 107.8,233.2 107.5,235.8 106.2,238.3 105.6,241.2 105.3,243.4 104.2,245.4 103.6,247.9 102.8,250.7 102.1,253 102.3,255.3 103.6,257.9 103.9,259.5 105,261.4 106.7,264.1 108.4,266.6 110.3,268.8 111.5,270.7 112.2,272.9 113.5,275.6 115.5,277.5 117.1,278.6 118.3,280.4 120.2,282.9 122,285.3 123.9,287.8 125.7,289.8 126.8,291.4 127.4,293.3 128.6,295.6 130.2,298 131.6,300 132.7,302 133.8,304.6 134.7,307 136.2,308.9 138.5,311.3 140.7,313.5 141.7,315.4 141.8,318.3 138.6,317.5 136,315.4 134.1,313.7 132.5,313.3 129.9,312.9 127.4,311 125.6,309.5 123.8,308.4 122,306.6 120.1,304.7 117.9,302.9 116,301.1 113.8,299.1 111.2,296.4 108.9,294.3 106.9,292.7 106.1,290.6 104.7,288.4 103.4,286.3 102.4,284.1 101.2,281.6 99.4,279.1 97.8,276.4 96.7,273.9 96.2,271.2 95.7,268.6 95.4,266.9 94.9,264.7 93.8,261.7 92.8,259.3 92.3,257.1 91.8,254.4 91.5,252.1 91.1,249.9 90.3,246.7 90.7,243.1 91.5,240.4 91.9,238.3 92.1,236.4 93,234.2 95.2,233.2 96.7,231.8 99.4,230.6 102,229.7 104.2,229 106.2,226.8 108.2,224 110.7,222Z" fill="#e8ca5a"/>
<path d="M107,293.9 109.7,295 111.7,295.6 113.8,296.9 115.9,299.5 118.5,301.5 121.9,301.6 124.6,302.6 126.8,303.6 128.9,303.7 131.6,303.6 134.6,304.1 135.3,306.7 136.5,310.1 138.5,312.8 139.8,314.5 140.5,316.4 141.8,318.2 144.1,320 145.9,322.4 143.3,323.5 140.4,324.1 137.9,324.8 135.3,324.5 132.2,324.5 129.8,323.5 128.1,322.7 126.1,322.5 124.2,321.3 122,319.8 119.3,318.9 116.4,317.7 113.7,315.7 112.5,313.4 110.9,311.8 108.9,309.8 107,307.1 105.4,304.1 106.1,301.1 106.3,298.9 106.2,296.6Z" fill="#dcb84e"/>
<path d="M108.1,226 110.8,223.1 110,225.3 109.5,228.6 109.4,231.7 108.9,233.5 107.8,235 106.2,237.4 105.1,240.6 104.7,243.6 104,245.9 104,248.9 104,252.6 105.3,255.2 106.3,257.4 107.1,260 107.8,262.9 109,264.8 110.6,266.6 112.5,268.8 114.5,271.1 116.2,273.9 117.9,276.2 119.5,277.3 121.5,279 124.1,281.5 126.1,284.4 127.2,288 128,291.1 123.5,292.5 121.9,290.2 120.2,288 117.5,285.9 115.3,284 113.3,282.5 111.6,280.2 110.4,277 109.5,274.2 108.3,271.9 107,269.4 105.3,267.3 103.9,265.5 102.8,263.4 101.4,261 100.1,258.7 99.2,256.2 99.5,253.8 99.7,250.9 99.5,247.3 99.5,244.5 100,242.8 100.7,240.5 102.1,238 102.7,235.9 103.6,233.7 105.4,230.9 107.1,227.9Z" fill="#acd66e"/>
<path d="M100,322 106,325 111,331 112,338 107,335 101,328Z" fill="#ec9a3e"/>
<path d="M134,336 140,340 141,347 136,349 133,344Z" fill="#ec9a3e"/>
<path d="M143.2,318.7 143.2,314.9 143.1,312 143.6,309.2 144.2,306 147.3,306.2 150.4,307.1 152.5,307.1 152.1,303.9 152.7,300.7 153.9,297.9 154.5,296.1 157.5,296.9 161,296.9 163.3,297.5 164.5,298.1 166.9,298 170.2,298.3 172.4,298.7 174.6,298.5 174.1,300.9 172.5,303.3 171.4,305.7 171.5,308.9 170.5,312.5 167.9,315.1 166.7,316.7 165.9,318.8 164.5,321.5 162.6,323.8 160.7,326.3 158.6,328.6 156.4,329.9 154,329.9 152,330.7 149.4,331 146.7,330.5 146,327.8 145.4,325.4 144.8,322.8 144.1,321.1Z" fill="#ecda82"/>
<path d="M135.8,349 136.5,347 138,343.8 140.6,339.6 141.8,337.1 142.2,335.4 143.8,332.5 145.6,329.5 146.9,327.7 149.6,328.8 151.7,329.2 153,330.2 155.4,331.1 158.6,331.9 161.2,332.8 164.3,333.1 166.9,333.5 168.4,335.4 170.1,337.2 171.8,339.4 173.5,341.3 175.5,342.4 177.6,343.9 179.5,345.5 181.2,347.9 183.6,350.7 186.5,352.5 187.4,353.9 187.6,356.4 188.7,359.8 190.2,362.3 189.5,364.8 188.1,367.2 186.8,369.2 186.2,371.5 186.1,373.5 183.6,373.2 180.1,373.4 177.1,373.1 174.8,373.2 171.9,373.3 168.7,373.4 166.9,371.7 165.3,369.9 163.3,369.1 161.2,368.1 159.2,366 156.5,363.5 154.4,361.7 152.6,360.2 150.8,358.9 149.2,357.6 146.7,356.7 144.7,355.8 143.1,354.4 140.4,352.3 137.9,350Z" fill="#f2b476"/>
<path d="M175.9,342.9 179,342.9 182.6,342.5 185.4,343.3 187.8,344 190.3,344.8 192,346.5 193.8,347.9 196.6,348.2 199.5,348.9 200,352.2 199.8,355.7 199.4,358.8 199.7,361.2 199.1,364 197.7,367.2 196.6,369.7 196.3,372.6 196.1,375.4 192.8,374.7 189.2,374.2 185.7,373.9 187,372.3 188.1,370.2 188.8,367.4 188.9,365 189,362.4 188.3,359.1 187.7,356.3 186.4,353.9 185.4,352.3 183.4,350.5 181.2,347.7 179.3,345.7 177.7,344.5Z" fill="#e8ca5a"/>
<path d="M201,344 225,350 250,350 263,345 262,375 195,377Z" fill="#bfd97a"/>
<path d="M195,352 210,352 220,358 224,366 226,374 195,377Z" fill="#ecda82"/>
<path d="M120.1,120.7 121.7,119.8 124.4,120 127.3,120.9 130.3,121 132.9,120.1 134.7,119.1 137.2,119.3 139.9,120 142,120.1 144.4,119.9 146.9,119.7 149.5,120 152.3,119.9 155.1,119.1 157.7,118.9 159.7,119.2 159.1,122.3 159.5,125.7 160.4,128.5 161.9,130.1 162.7,132.2 163.1,134.9 163.7,137 164.4,139.2 165,142.2 165.9,145.1 167.3,147.7 168.2,149.8 170,150.9 172.2,152.4 174.7,153.8 177.5,155.7 180.2,158.6 178.3,162 176.4,164.6 175,166.8 173.2,168.4 171.4,170.1 169.4,171.9 167.9,173.6 166.5,175.6 164.4,177.4 162.1,178.9 160,179.9 158,181.1 156.6,183.2 154.7,184.9 152,185.9 151.3,188.2 150.4,191.2 150.8,194.3 151.8,197.1 153.7,200.2 155.6,202.4 157.4,204.1 158.9,206.1 160.2,208.3 163,209.8 165.4,211.2 167,212.4 169.3,213.9 172.5,215.2 175.8,216.6 178.4,217.7 180.4,218.5 182.7,219.1 185.5,219.6 188,219.8 189.6,223.8 189.3,226.5 188.9,228.6 188.4,231.1 191.3,232.1 193.7,233 195.6,236 197.5,239.1 196.5,242.1 195.8,245.1 195.5,248.2 195.4,251 197.8,251.3 199.6,252 202,253.1 205.1,253.7 208.4,253.9 211.8,254.5 214,255.6 215.1,256.7 216.4,258.6 219,260.7 221.3,262.2 222.4,264.3 223.9,266.6 225.9,269.1 227.8,271.7 228.8,273.7 229.8,276.3 227.8,279.2 226.1,280.7 224.2,281.2 221.9,282.6 219.3,284.3 217.4,285.4 216.4,287.9 214.6,291.1 213.4,293.8 215.2,295.1 216.9,296.8 219,298.7 221,300.3 223.5,301.8 226,304.3 227.8,306 230.2,305.8 233.1,306.7 235.2,307.1 237.7,306.5 240.9,306.2 244.4,305.9 247.5,306.5 249.7,307.4 252,308.4 255.3,309.1 258.2,309 259.9,309.2 261.4,309.5 263.9,309.7 264.8,313 265.7,316.6 265.8,319 264.9,321.4 263.9,324.6 263.5,326.8 263.4,328.9 261.6,331.3 259.5,334.1 256.7,336.3 254.4,338.1 252.2,339 250.2,340.2 248.3,341.2 245.5,341.5 242.8,341.8 240.1,342.1 236.9,342.5 234,343.4 231.9,343.4 230,343.1 227.7,344.2 224.8,345.4 221.5,344.1 219,343.4 217.4,343.6 215.4,342.9 212.7,342 209.3,340.3 206,338.7 203.3,337.9 203.4,335.9 203,333.3 203.1,330.6 203.4,327.7 203,324.9 202.5,323.1 202.7,320.4 203.4,316.5 203.3,313.6 202.7,311.6 202.4,309.1 202.5,306.9 202.4,304.3 199.7,303.4 197.2,302.8 195,302.4 192.4,301.5 189.8,300.8 188.2,301.3 185.6,301.6 182,301 179.7,300.4 177.5,299.8 174.8,298.6 173.1,297.9 170.7,297.6 167,296.8 164.7,296.8 162.9,297.3 160.2,297.1 157.9,296.4 155.3,295.9 152.8,294.7 151.1,292.9 150,289.8 148,287.7 145.7,286.1 143.6,284.6 141.5,283.4 139.8,282.4 138.8,280.5 137.9,278.1 136.6,275.6 134.7,273.1 132.5,270.2 130.7,266.9 129.3,264.3 128.1,262 127.4,259.6 126.4,257.8 124.4,256.3 122.3,254.2 121.2,251.5 120.4,249.1 119.2,247.1 117.3,244.7 115.8,241.9 115.2,239.5 114,237.4 112.7,235 111.4,232.3 109.6,230.2 108.2,228.5 107.6,226.2 107.4,223.4 106.7,221.1 105.5,218.4 104.8,215.2 104.9,211.8 104.8,208.7 104.1,206 104.2,203.5 103.7,200.8 103.4,197.6 104.1,195.3 104.6,193.4 104.7,190.1 103.9,187.2 103.1,185.4 103.6,183.2 104,180 105.4,177.5 106.8,175.9 108.3,174.5 109.7,172.9 112,170.5 114.7,168.3 117.1,167.4 120,165.7 120.7,162.4 120.1,160.5 120.4,158.7 122,156.2 122.6,153.3 122.4,150.1 121.9,147.8 121.7,145.8 122,143.3 121.7,140.7 120.7,138.3 120.5,135.5 120.5,132.8 119.8,130.5 119.7,127.4 120.6,124.6 121.1,123.1Z" fill="#5fbe52"/>
<path d="M160.3,298.3 163.2,299 166.1,298.6 168.4,298.6 170.4,299.5 172.4,299.9 174.8,299.5 177.6,300.2 180.3,300.9 182.4,300.5 185,300.6 187.6,301.4 189.8,301.8 192.7,302.1 195.5,301.9 198,301.6 200.2,302 202.5,302.3 205.5,302.8 205.2,306.4 204.3,309.3 203.6,311.5 203.3,314 203.1,316.6 203.1,319.1 202.9,322 202.5,324.9 202.3,327.9 202.4,330.6 202.3,332.6 202.3,334.3 202.2,336.7 201.9,339.3 199.5,340.7 197.4,342.8 195,345.2 192.5,343.8 189.8,342.3 187.4,341.3 184.7,340 182,337.9 179.2,335.2 177.9,332.6 176.9,331 174.6,329.5 172.4,327.4 171.1,324.2 169.1,321.1 166.8,319 165,317.4 163.2,316.1 161.4,314.1 159.5,311.8 159.8,309.3 160.2,306.2 160.4,302.7 160.4,300Z" fill="#b4d77c"/>
<path d="M166.7,305.1 169.6,305.5 172.3,306.3 175.3,307.1 176.7,308.5 177.3,310.1 179,312.4 181.7,314.9 183.9,316.9 185.2,318.4 186.6,320.4 188.8,322.7 191.2,324.9 192.6,327.9 194.1,331 196.3,333.6 198.3,335.1 200.1,336.9 201.5,339.5 199.4,341.9 197.8,344.5 197,347.6 194.9,346.1 192.6,343.8 190.4,341.1 187.5,339.3 185.5,337.6 184,335.2 182.1,332.6 180.3,330.7 178.7,328.7 177.1,325.9 175.8,323.6 173.9,322.3 171.7,320.8 170,318.9 168.1,316.7 167.8,313.7 167.7,310.6 167,307.8Z" fill="#7ac55a"/>
<path d="M122,152 138,150 146,160 140,168 128,166Z" fill="#acd66e"/>
<path d="M146,202 160,205 172,212 180,222 168,224 152,218Z" fill="#acd66e"/>
<path d="M108,226 134,232 136,250 130,268 118,268 110,255Z" fill="#acd66e"/>
<path d="M168,236 186,238 188,250 184,262 172,262 166,250Z" fill="#acd66e"/>
<path d="M157,284 200,288 205,303 155,296Z" fill="#acd66e"/>
<path d="M162,240 170,240 172,262 166,272 160,262Z" fill="#acd66e"/>
<path d="M155,296 175,299 168,305 160,304Z" fill="#acd66e"/>
<path d="M232,330 262,328 262,345 240,345Z" fill="#acd66e"/>
<path d="M122.5,279.4 124.8,281.3 127.1,282.6 129.1,282.8 131.7,283.1 134.8,284.7 137.4,286.2 139.4,286.8 141.5,286 144.3,286 147.4,287.4 150.9,288.6 154,289.1 156.3,290.5 156.3,293.7 155.8,296.7 154.4,299.3 154,301.7 153.1,303.6 151.4,305.7 148.6,305.9 146.9,306 144.5,306.4 143.7,309.1 143.4,312.1 142.6,315.6 141.7,318.6 140.6,316.3 139.1,313.8 137.5,311 136.3,308.5 135.3,306.6 134.4,304.8 132.9,302.2 132.1,299.8 131.2,297.9 129.3,295.7 127.4,293.7 125.5,291.2 123.8,288.8 122.9,286.2 123,282.5Z" fill="#e8ca5a"/>
<path d="M244.5,289.9 246.7,289 249.2,287.9 252,286.3 253.7,288.3 255.5,289.9 257,291.9 258.2,294.6 261.5,294 264.8,293.8 267.3,294.2 269.4,292.6 271.7,291.1 274.1,289.5 275,286.6 275.6,284 276.7,281.6 277.9,279.8 277.5,282.6 277.4,284.7 278,286.9 278.5,289.5 278.4,292.4 277.7,295.1 277.4,297 277.4,299.1 277.6,301.6 278.4,304.4 279.4,306.6 279.4,308.9 278.9,311.8 276.3,311.8 273.6,311.4 270.9,311.3 268.2,312 266,312.9 264.5,312.9 262.1,312 259.5,311.4 256.8,311.2 253.5,311.5 251,312.5 248.8,312.5 246,312 243.6,312.4 243.6,309.6 243.2,306.8 243.2,304.2 243.5,301.3 243.7,297.9 243.8,295.1 244.3,292.6Z" fill="#4cb848"/>
<path d="M171.1,171.6 172.3,168.4 173.3,166.8 175.2,166 177.3,163.7 179.2,161.4 181.5,158.9 179.7,156.7 177.4,155 175,155 172.4,155.3 168.9,154.4 165.7,152.8 166.5,149.7 166.5,146.5 165,143.4 164.9,140.8 165.7,138.9 164.7,136.8 163.9,134.2 164.4,131.2 164.5,128.1 164.2,125.9 164.1,123.8 164.9,121.1 167.7,120.3 169.3,119.5 172.4,119.8 176.3,120.1 178.1,120.3 179.4,121 181.8,121.5 184,121.2 186.8,120.4 190.9,120.2 194.4,121.1 196,120.9 196.4,120.1 198.2,120.9 201.5,121.2 204.1,120 207,119.1 210.4,119.2 213.4,119.9 215.5,119.9 217,119.3 219,119.6 222.1,119.9 226,119.8 228.5,120 229.4,119.6 232.3,119.2 236,118.9 238.1,118.3 240,118.1 242.6,118.1 245.4,118.2 247.8,118.7 249.6,119.4 252.7,120.4 255.5,121 256.7,120.9 259,120.7 262.2,120.6 265.5,120.4 268.4,119.7 270,119.2 269.5,121.6 269.8,124.4 269.6,127.9 269.2,131.3 268.1,133.5 267.8,134.8 268.5,137.2 268.9,140.4 268.5,143.6 267.2,146.6 266.2,148.5 266.4,150 266.7,152.4 266.3,154.3 266.1,156.4 266.9,159.1 267.8,161.6 267.6,164.1 266.5,166.7 265.7,169.4 265.7,172 266,175.3 266.1,178.2 265.7,179.3 264.8,181 264.7,183.8 264.8,187.4 264.9,191.5 266.1,194.3 266.4,196.5 265,198.8 264.1,199.9 264.2,201.6 264.4,205.1 264.2,209.2 263.9,212 263,214.2 262.3,216.9 262.1,219.2 262.1,221.9 262.4,225.1 262.4,227.6 261.8,229.5 261.8,231.1 262.5,233.4 262.5,236.9 262.1,241 262.3,244.1 261.8,246.3 261.4,247.6 262,249 261.4,252.4 260.3,256.1 257.4,256.3 254.3,256.7 252.3,257.3 250.5,257.9 247.7,257.7 244.4,257.2 241.4,257.2 239.8,257.5 238.7,256.9 236.3,257 233.4,257.1 231.5,255.6 228.5,254.3 224.7,253.8 222,253.8 219.2,254.3 216.6,254.3 213.8,254.4 210,254.4 207.6,253.8 206.1,252.9 204,250.9 201.1,248 199.1,246.1 196.6,245.4 196.8,242.5 197.9,238.4 198.2,234.9 198,231.9 198.3,227.8 197.8,224.7 197.5,222.4 198.7,219 198.5,216.8 197.3,215.3 196.9,211.8 194.8,213.4 192.8,216 190,219.1 187.1,220.8 183.8,219.6 179.6,218.7 177.4,217.8 174.8,216.6 172.6,215.3 169.8,213.1 165.5,211.2 162.2,211.2 161.1,210.3 160.1,207.7 158.2,205 155.1,202.4 152.2,199.9 149.9,198.6 148,197.3 149.8,194.5 151.6,191.2 152.6,188.3 153,186.2 154.5,184.2 156.2,181.7 158.3,180.5 160.4,178.3 163.1,175.5 166.1,174.5 169.1,174.1Z" fill="url(#stripe)"/>
<path d="M212,255.5 214.1,257.8 216,258.3 219.6,259.8 221.7,263.2 222.2,265.6 224,266.7 226.4,269 228.2,271.9 229.5,274.7 231.6,277.6 230.2,279.8 227.5,281.1 224.5,281.8 222.3,283 219.2,283.9 216.3,285.5 216.1,288.7 215.2,291.6 213.8,294.7 216.5,297 218.6,298.2 219.5,298.8 221.1,299.7 224.1,301 226.7,302.6 228.1,305.3 230.6,306.4 234.2,306.8 237.7,306.8 241.5,306.6 245,306.8 245.7,303.3 247,300.2 248,298.2 247.1,295.4 246.4,292.9 245.6,291.4 247.6,289.5 249.4,286.7 251.9,284.9 253.9,287.1 255.5,289.6 255.7,292.4 256.3,295.2 259.2,295.4 262.1,295.4 265.5,295.3 269,293 272.1,290.5 274,288.7 273.8,287 274.2,284.7 275.4,281.1 277,279 277.3,277.7 277.3,275.2 277.8,273.1 278.4,270.1 277.9,266.3 277.6,264 278.3,262.6 275.9,262.1 273.6,260.9 270.9,260.6 267.2,260.8 264.3,260.7 262,260.1 259.1,259.5 256.2,259.4 254.6,258.8 253.5,258.3 251.7,258.2 249.2,257.6 245.8,256.4 241.6,255.1 238.7,255.4 237.6,256.7 235.4,256.5 231.7,255.5 229,254.7 227.2,254.6 225.5,255 223.4,255.5 220.8,255.3 217.5,254.3 214.3,254.3Z" fill="url(#stripe)"/>
<path d="M221.4,304.1 223.5,303.9 227.1,303.8 230.8,304.4 233.4,305.2 234.9,305.5 237,305.8 240.2,306.8 243,306.8 244.9,305.7 245.5,307.3 246.4,309.5 248.2,311.6 247.9,314.6 248.2,317.6 248.5,319.6 246.3,320.1 243.4,321.3 239.6,321.7 236.7,320.5 235,319.7 231.8,317.6 228.4,315.3 226.8,313.7 224.5,312.1 223,309.5 222.4,306.7Z" fill="url(#stripe)"/>
<path d="M205,327 210,326 212,334 209,342 205,338Z" fill="url(#stripe)"/>
<path d="M188,252 196,250 210,254 212,262 202,265 190,262Z" fill="url(#stripe)"/>
<path d="M126,130 150,132 148,142 140,140 132,138 126,136Z" fill="url(#stripe)"/>
<path d="M246,268 249,268 250,274 247,274Z" fill="#4cb848"/>
<path d="M236,283 239,283 239,288 236,288Z" fill="#4cb848"/>
<ellipse cx="187.9" cy="251.3" rx="1.1" ry="1.6" transform="rotate(21 187.9 251.3)" fill="#eef8ea"/>
<ellipse cx="188.4" cy="249.3" rx="1.1" ry="1.6" transform="rotate(18 188.4 249.3)" fill="#eef8ea"/>
<ellipse cx="184.8" cy="250.0" rx="1.0" ry="3.2" transform="rotate(9 184.8 250.0)" fill="#eef8ea"/>
<ellipse cx="186.7" cy="261.8" rx="1.3" ry="2.7" transform="rotate(17 186.7 261.8)" fill="#eef8ea"/>
<ellipse cx="194.3" cy="254.4" rx="0.9" ry="1.7" transform="rotate(14 194.3 254.4)" fill="#eef8ea"/>
<ellipse cx="193.8" cy="252.0" rx="1.1" ry="2.8" transform="rotate(16 193.8 252.0)" fill="#eef8ea"/>
<ellipse cx="190.6" cy="249.4" rx="0.8" ry="1.9" transform="rotate(25 190.6 249.4)" fill="#eef8ea"/>
<ellipse cx="189.1" cy="254.9" rx="1.1" ry="2.4" transform="rotate(14 189.1 254.9)" fill="#eef8ea"/>
<ellipse cx="192.5" cy="231.3" rx="0.7" ry="1.9" transform="rotate(21 192.5 231.3)" fill="#eef8ea"/>
<ellipse cx="194.3" cy="231.9" rx="0.7" ry="2.5" transform="rotate(9 194.3 231.9)" fill="#eef8ea"/>
<ellipse cx="184.2" cy="232.4" rx="0.7" ry="1.7" transform="rotate(6 184.2 232.4)" fill="#eef8ea"/>
<ellipse cx="189.7" cy="232.5" rx="0.9" ry="2.3" transform="rotate(14 189.7 232.5)" fill="#eef8ea"/>
<ellipse cx="190.3" cy="229.3" rx="0.9" ry="1.7" transform="rotate(30 190.3 229.3)" fill="#eef8ea"/>
<ellipse cx="195.8" cy="227.0" rx="0.9" ry="1.1" transform="rotate(26 195.8 227.0)" fill="#eef8ea"/>
<ellipse cx="193.1" cy="223.4" rx="0.8" ry="2.0" transform="rotate(6 193.1 223.4)" fill="#eef8ea"/>
<ellipse cx="185.2" cy="221.2" rx="0.7" ry="1.1" transform="rotate(28 185.2 221.2)" fill="#eef8ea"/>
<ellipse cx="177.8" cy="222.7" rx="0.8" ry="2.3" transform="rotate(7 177.8 222.7)" fill="#eef8ea"/>
<ellipse cx="184.9" cy="228.4" rx="1.0" ry="2.2" transform="rotate(31 184.9 228.4)" fill="#eef8ea"/>
<ellipse cx="181.1" cy="225.9" rx="0.8" ry="2.3" transform="rotate(34 181.1 225.9)" fill="#eef8ea"/>
<ellipse cx="178.3" cy="221.3" rx="0.7" ry="1.4" transform="rotate(20 178.3 221.3)" fill="#eef8ea"/>
<ellipse cx="152.7" cy="248.1" rx="0.8" ry="3.0" transform="rotate(16 152.7 248.1)" fill="#eef8ea"/>
<ellipse cx="151.8" cy="279.8" rx="1.3" ry="3.3" transform="rotate(24 151.8 279.8)" fill="#eef8ea"/>
<ellipse cx="156.4" cy="238.5" rx="1.4" ry="3.9" transform="rotate(31 156.4 238.5)" fill="#eef8ea"/>
<ellipse cx="161.5" cy="254.0" rx="1.1" ry="2.3" transform="rotate(24 161.5 254.0)" fill="#eef8ea"/>
<ellipse cx="130.6" cy="239.1" rx="0.9" ry="2.4" transform="rotate(15 130.6 239.1)" fill="#eef8ea"/>
<ellipse cx="130.2" cy="236.0" rx="0.9" ry="2.3" transform="rotate(16 130.2 236.0)" fill="#eef8ea"/>
<ellipse cx="153.8" cy="242.8" rx="1.0" ry="2.9" transform="rotate(16 153.8 242.8)" fill="#eef8ea"/>
<ellipse cx="148.3" cy="240.0" rx="0.9" ry="2.9" transform="rotate(13 148.3 240.0)" fill="#eef8ea"/>
<ellipse cx="162.8" cy="243.4" rx="0.8" ry="4.4" transform="rotate(21 162.8 243.4)" fill="#eef8ea"/>
<ellipse cx="134.2" cy="261.0" rx="0.8" ry="3.3" transform="rotate(34 134.2 261.0)" fill="#eef8ea"/>
<ellipse cx="164.3" cy="268.0" rx="1.0" ry="2.9" transform="rotate(10 164.3 268.0)" fill="#eef8ea"/>
<ellipse cx="160.4" cy="260.5" rx="1.3" ry="2.8" transform="rotate(12 160.4 260.5)" fill="#eef8ea"/>
<ellipse cx="162.1" cy="281.3" rx="1.4" ry="4.0" transform="rotate(30 162.1 281.3)" fill="#eef8ea"/>
<ellipse cx="159.1" cy="246.4" rx="1.2" ry="2.9" transform="rotate(6 159.1 246.4)" fill="#eef8ea"/>
<ellipse cx="129.2" cy="248.9" rx="1.0" ry="3.7" transform="rotate(34 129.2 248.9)" fill="#eef8ea"/>
<ellipse cx="146.8" cy="279.1" rx="1.5" ry="4.4" transform="rotate(16 146.8 279.1)" fill="#eef8ea"/>
<ellipse cx="137.3" cy="246.4" rx="0.9" ry="2.5" transform="rotate(24 137.3 246.4)" fill="#eef8ea"/>
<ellipse cx="165.8" cy="274.7" rx="1.1" ry="3.6" transform="rotate(29 165.8 274.7)" fill="#eef8ea"/>
<ellipse cx="166.2" cy="272.0" rx="1.3" ry="3.2" transform="rotate(10 166.2 272.0)" fill="#eef8ea"/>
<ellipse cx="161.1" cy="251.3" rx="1.4" ry="4.4" transform="rotate(17 161.1 251.3)" fill="#eef8ea"/>
<ellipse cx="158.4" cy="243.8" rx="0.9" ry="2.4" transform="rotate(32 158.4 243.8)" fill="#eef8ea"/>
<ellipse cx="161.9" cy="242.7" rx="1.4" ry="4.5" transform="rotate(25 161.9 242.7)" fill="#eef8ea"/>
<ellipse cx="142.7" cy="261.2" rx="0.9" ry="2.0" transform="rotate(34 142.7 261.2)" fill="#eef8ea"/>
<ellipse cx="155.3" cy="260.2" rx="1.5" ry="3.1" transform="rotate(31 155.3 260.2)" fill="#eef8ea"/>
<ellipse cx="162.7" cy="245.7" rx="1.0" ry="2.7" transform="rotate(12 162.7 245.7)" fill="#eef8ea"/>
<ellipse cx="152.6" cy="247.9" rx="1.1" ry="2.3" transform="rotate(32 152.6 247.9)" fill="#eef8ea"/>
<ellipse cx="142.9" cy="257.1" rx="1.2" ry="4.3" transform="rotate(18 142.9 257.1)" fill="#eef8ea"/>
<ellipse cx="166.5" cy="259.1" rx="1.2" ry="3.3" transform="rotate(6 166.5 259.1)" fill="#eef8ea"/>
<ellipse cx="146.5" cy="244.4" rx="0.8" ry="4.0" transform="rotate(10 146.5 244.4)" fill="#eef8ea"/>
<ellipse cx="147.9" cy="269.4" rx="1.2" ry="2.8" transform="rotate(21 147.9 269.4)" fill="#eef8ea"/>
<ellipse cx="151.3" cy="272.1" rx="0.9" ry="3.4" transform="rotate(12 151.3 272.1)" fill="#eef8ea"/>
<ellipse cx="139.6" cy="271.5" rx="1.2" ry="3.4" transform="rotate(28 139.6 271.5)" fill="#eef8ea"/>
<ellipse cx="166.3" cy="256.4" rx="1.2" ry="3.3" transform="rotate(20 166.3 256.4)" fill="#eef8ea"/>
<ellipse cx="157.1" cy="256.8" rx="1.2" ry="3.2" transform="rotate(33 157.1 256.8)" fill="#eef8ea"/>
<ellipse cx="157.4" cy="276.3" rx="1.5" ry="2.6" transform="rotate(22 157.4 276.3)" fill="#eef8ea"/>
<ellipse cx="133.8" cy="241.6" rx="1.1" ry="2.2" transform="rotate(12 133.8 241.6)" fill="#eef8ea"/>
<ellipse cx="160.9" cy="277.3" rx="0.9" ry="3.8" transform="rotate(25 160.9 277.3)" fill="#eef8ea"/>
<ellipse cx="168.0" cy="254.3" rx="1.1" ry="4.5" transform="rotate(30 168.0 254.3)" fill="#eef8ea"/>
<ellipse cx="134.8" cy="255.9" rx="1.2" ry="2.8" transform="rotate(11 134.8 255.9)" fill="#eef8ea"/>
<ellipse cx="141.4" cy="269.2" rx="0.8" ry="3.4" transform="rotate(18 141.4 269.2)" fill="#eef8ea"/>
<ellipse cx="128.8" cy="251.2" rx="1.2" ry="3.3" transform="rotate(7 128.8 251.2)" fill="#eef8ea"/>
<ellipse cx="139.2" cy="237.8" rx="1.3" ry="2.7" transform="rotate(9 139.2 237.8)" fill="#eef8ea"/>
<ellipse cx="145.7" cy="277.9" rx="1.4" ry="2.6" transform="rotate(9 145.7 277.9)" fill="#eef8ea"/>
<ellipse cx="166.6" cy="262.2" rx="1.3" ry="2.2" transform="rotate(7 166.6 262.2)" fill="#eef8ea"/>
<ellipse cx="156.9" cy="255.6" rx="0.9" ry="4.3" transform="rotate(24 156.9 255.6)" fill="#eef8ea"/>
<ellipse cx="161.7" cy="239.9" rx="1.4" ry="2.2" transform="rotate(31 161.7 239.9)" fill="#eef8ea"/>
<ellipse cx="147.1" cy="251.6" rx="1.2" ry="4.3" transform="rotate(13 147.1 251.6)" fill="#eef8ea"/>
<ellipse cx="133.4" cy="260.2" rx="1.0" ry="2.3" transform="rotate(10 133.4 260.2)" fill="#eef8ea"/>
<ellipse cx="167.4" cy="276.4" rx="1.1" ry="2.5" transform="rotate(28 167.4 276.4)" fill="#eef8ea"/>
<ellipse cx="174.1" cy="283.0" rx="1.0" ry="2.6" transform="rotate(6 174.1 283.0)" fill="#eef8ea"/>
<ellipse cx="186.5" cy="284.1" rx="1.0" ry="2.8" transform="rotate(33 186.5 284.1)" fill="#eef8ea"/>
<ellipse cx="178.1" cy="282.9" rx="1.4" ry="2.7" transform="rotate(20 178.1 282.9)" fill="#eef8ea"/>
<ellipse cx="185.3" cy="293.6" rx="1.1" ry="3.6" transform="rotate(26 185.3 293.6)" fill="#eef8ea"/>
<ellipse cx="183.8" cy="280.9" rx="1.1" ry="1.9" transform="rotate(9 183.8 280.9)" fill="#eef8ea"/>
<ellipse cx="173.2" cy="275.6" rx="1.0" ry="3.7" transform="rotate(31 173.2 275.6)" fill="#eef8ea"/>
<ellipse cx="184.8" cy="278.2" rx="1.0" ry="2.4" transform="rotate(19 184.8 278.2)" fill="#eef8ea"/>
<ellipse cx="170.4" cy="281.8" rx="1.1" ry="3.9" transform="rotate(34 170.4 281.8)" fill="#eef8ea"/>
<ellipse cx="181.3" cy="277.4" rx="1.5" ry="2.5" transform="rotate(16 181.3 277.4)" fill="#eef8ea"/>
<ellipse cx="104.0" cy="196.3" rx="0.8" ry="1.4" transform="rotate(11 104.0 196.3)" fill="#e6f4e0"/>
<ellipse cx="116.2" cy="182.3" rx="0.8" ry="0.9" transform="rotate(6 116.2 182.3)" fill="#e6f4e0"/>
<ellipse cx="118.0" cy="189.2" rx="0.9" ry="1.4" transform="rotate(28 118.0 189.2)" fill="#e6f4e0"/>
<ellipse cx="134.2" cy="212.4" rx="1.0" ry="1.3" transform="rotate(15 134.2 212.4)" fill="#e6f4e0"/>
<ellipse cx="149.3" cy="185.2" rx="1.0" ry="1.6" transform="rotate(6 149.3 185.2)" fill="#e6f4e0"/>
<ellipse cx="132.9" cy="213.2" rx="1.0" ry="1.0" transform="rotate(21 132.9 213.2)" fill="#e6f4e0"/>
<ellipse cx="127.2" cy="218.1" rx="1.0" ry="1.8" transform="rotate(23 127.2 218.1)" fill="#e6f4e0"/>
<ellipse cx="135.9" cy="189.0" rx="0.6" ry="1.0" transform="rotate(16 135.9 189.0)" fill="#e6f4e0"/>
<ellipse cx="129.7" cy="208.1" rx="0.9" ry="1.6" transform="rotate(20 129.7 208.1)" fill="#e6f4e0"/>
<ellipse cx="138.4" cy="202.1" rx="0.9" ry="1.6" transform="rotate(7 138.4 202.1)" fill="#e6f4e0"/>
<ellipse cx="137.9" cy="190.1" rx="0.6" ry="1.1" transform="rotate(27 137.9 190.1)" fill="#e6f4e0"/>
<ellipse cx="113.4" cy="213.5" rx="1.1" ry="1.4" transform="rotate(16 113.4 213.5)" fill="#e6f4e0"/>
<ellipse cx="126.0" cy="210.8" rx="1.0" ry="1.5" transform="rotate(24 126.0 210.8)" fill="#e6f4e0"/>
<ellipse cx="107.6" cy="185.1" rx="0.7" ry="1.7" transform="rotate(14 107.6 185.1)" fill="#e6f4e0"/>
<ellipse cx="106.8" cy="190.9" rx="0.9" ry="1.6" transform="rotate(25 106.8 190.9)" fill="#e6f4e0"/>
<ellipse cx="117.4" cy="202.8" rx="0.8" ry="1.4" transform="rotate(9 117.4 202.8)" fill="#e6f4e0"/>
<ellipse cx="145.1" cy="187.6" rx="1.1" ry="1.9" transform="rotate(6 145.1 187.6)" fill="#e6f4e0"/>
<ellipse cx="125.1" cy="217.4" rx="1.1" ry="1.3" transform="rotate(13 125.1 217.4)" fill="#e6f4e0"/>
<ellipse cx="113.7" cy="205.9" rx="0.7" ry="1.4" transform="rotate(34 113.7 205.9)" fill="#e6f4e0"/>
<ellipse cx="110.1" cy="217.4" rx="0.9" ry="1.9" transform="rotate(26 110.1 217.4)" fill="#e6f4e0"/>
<ellipse cx="114.6" cy="221.1" rx="0.8" ry="0.8" transform="rotate(5 114.6 221.1)" fill="#e6f4e0"/>
<ellipse cx="126.6" cy="199.6" rx="0.8" ry="1.0" transform="rotate(15 126.6 199.6)" fill="#e6f4e0"/>
<ellipse cx="118.5" cy="218.3" rx="0.6" ry="1.7" transform="rotate(30 118.5 218.3)" fill="#e6f4e0"/>
<ellipse cx="136.8" cy="221.3" rx="0.7" ry="1.2" transform="rotate(17 136.8 221.3)" fill="#e6f4e0"/>
<ellipse cx="120.6" cy="198.5" rx="0.7" ry="0.9" transform="rotate(8 120.6 198.5)" fill="#e6f4e0"/>
<ellipse cx="142.4" cy="191.7" rx="1.1" ry="1.1" transform="rotate(13 142.4 191.7)" fill="#e6f4e0"/>
<ellipse cx="127.5" cy="187.1" rx="0.8" ry="1.9" transform="rotate(32 127.5 187.1)" fill="#e6f4e0"/>
<ellipse cx="141.4" cy="208.3" rx="1.1" ry="1.9" transform="rotate(21 141.4 208.3)" fill="#e6f4e0"/>
<ellipse cx="137.1" cy="180.4" rx="1.0" ry="1.3" transform="rotate(28 137.1 180.4)" fill="#e6f4e0"/>
<ellipse cx="133.6" cy="191.7" rx="0.6" ry="1.9" transform="rotate(9 133.6 191.7)" fill="#e6f4e0"/>
<ellipse cx="166.0" cy="212.4" rx="0.7" ry="1.8" transform="rotate(34 166.0 212.4)" fill="#e6f4e0"/>
<ellipse cx="154.8" cy="223.6" rx="0.8" ry="1.6" transform="rotate(17 154.8 223.6)" fill="#e6f4e0"/>
<ellipse cx="149.9" cy="205.8" rx="0.7" ry="2.1" transform="rotate(20 149.9 205.8)" fill="#e6f4e0"/>
<ellipse cx="148.4" cy="206.9" rx="0.6" ry="1.3" transform="rotate(8 148.4 206.9)" fill="#e6f4e0"/>
<ellipse cx="153.7" cy="209.3" rx="0.9" ry="2.0" transform="rotate(27 153.7 209.3)" fill="#e6f4e0"/>
<ellipse cx="162.9" cy="214.9" rx="0.9" ry="1.3" transform="rotate(15 162.9 214.9)" fill="#e6f4e0"/>
<ellipse cx="167.7" cy="222.7" rx="1.0" ry="1.1" transform="rotate(13 167.7 222.7)" fill="#e6f4e0"/>
<ellipse cx="154.2" cy="214.4" rx="0.8" ry="2.1" transform="rotate(30 154.2 214.4)" fill="#e6f4e0"/>
<ellipse cx="142.7" cy="225.5" rx="1.0" ry="1.5" transform="rotate(23 142.7 225.5)" fill="#e6f4e0"/>
<ellipse cx="190.1" cy="229.7" rx="1.0" ry="2.2" transform="rotate(12 190.1 229.7)" fill="#e6f4e0"/>
<ellipse cx="168.7" cy="224.6" rx="1.1" ry="1.8" transform="rotate(24 168.7 224.6)" fill="#e6f4e0"/>
<ellipse cx="181.5" cy="216.5" rx="0.9" ry="0.9" transform="rotate(28 181.5 216.5)" fill="#e6f4e0"/>
<ellipse cx="147.8" cy="209.1" rx="0.9" ry="1.8" transform="rotate(8 147.8 209.1)" fill="#e6f4e0"/>
<ellipse cx="144.7" cy="218.9" rx="0.9" ry="1.3" transform="rotate(12 144.7 218.9)" fill="#e6f4e0"/>
<ellipse cx="157.0" cy="216.6" rx="1.1" ry="1.7" transform="rotate(32 157.0 216.6)" fill="#e6f4e0"/>
<ellipse cx="166.2" cy="208.5" rx="0.7" ry="2.1" transform="rotate(26 166.2 208.5)" fill="#e6f4e0"/>
<ellipse cx="167.4" cy="224.3" rx="0.8" ry="1.2" transform="rotate(25 167.4 224.3)" fill="#e6f4e0"/>
<ellipse cx="163.3" cy="224.6" rx="0.7" ry="1.9" transform="rotate(27 163.3 224.6)" fill="#e6f4e0"/>
<ellipse cx="206.2" cy="260.3" rx="1.2" ry="1.5" transform="rotate(30 206.2 260.3)" fill="#e6f4e0"/>
<ellipse cx="197.4" cy="261.1" rx="1.1" ry="1.4" transform="rotate(34 197.4 261.1)" fill="#e6f4e0"/>
<ellipse cx="205.9" cy="259.4" rx="0.7" ry="1.6" transform="rotate(25 205.9 259.4)" fill="#e6f4e0"/>
<ellipse cx="202.6" cy="260.6" rx="1.2" ry="1.2" transform="rotate(7 202.6 260.6)" fill="#e6f4e0"/>
<ellipse cx="191.9" cy="269.7" rx="1.1" ry="2.3" transform="rotate(27 191.9 269.7)" fill="#e6f4e0"/>
<ellipse cx="200.5" cy="259.3" rx="1.2" ry="2.1" transform="rotate(6 200.5 259.3)" fill="#e6f4e0"/>
<ellipse cx="211.3" cy="268.9" rx="0.8" ry="1.5" transform="rotate(10 211.3 268.9)" fill="#e6f4e0"/>
<ellipse cx="196.6" cy="267.8" rx="1.1" ry="2.2" transform="rotate(18 196.6 267.8)" fill="#e6f4e0"/>
<ellipse cx="191.6" cy="273.7" rx="0.8" ry="2.4" transform="rotate(11 191.6 273.7)" fill="#e6f4e0"/>
<ellipse cx="201.7" cy="294.8" rx="0.6" ry="1.6" transform="rotate(29 201.7 294.8)" fill="#e6f4e0"/>
<ellipse cx="213.9" cy="294.9" rx="0.8" ry="1.4" transform="rotate(34 213.9 294.9)" fill="#e6f4e0"/>
<ellipse cx="209.7" cy="263.1" rx="1.0" ry="1.5" transform="rotate(13 209.7 263.1)" fill="#e6f4e0"/>
<ellipse cx="219.3" cy="281.7" rx="1.2" ry="1.0" transform="rotate(12 219.3 281.7)" fill="#e6f4e0"/>
<ellipse cx="205.2" cy="297.8" rx="1.2" ry="1.6" transform="rotate(13 205.2 297.8)" fill="#e6f4e0"/>
<ellipse cx="203.8" cy="274.7" rx="1.2" ry="1.3" transform="rotate(29 203.8 274.7)" fill="#e6f4e0"/>
<ellipse cx="213.6" cy="291.1" rx="1.1" ry="1.9" transform="rotate(15 213.6 291.1)" fill="#e6f4e0"/>
<ellipse cx="134.1" cy="146.3" rx="0.9" ry="0.9" transform="rotate(11 134.1 146.3)" fill="#e6f4e0"/>
<ellipse cx="150.6" cy="141.1" rx="0.6" ry="0.8" transform="rotate(22 150.6 141.1)" fill="#e6f4e0"/>
<ellipse cx="132.1" cy="133.8" rx="0.6" ry="1.3" transform="rotate(26 132.1 133.8)" fill="#e6f4e0"/>
<ellipse cx="139.0" cy="140.5" rx="0.8" ry="1.4" transform="rotate(25 139.0 140.5)" fill="#e6f4e0"/>
<ellipse cx="150.4" cy="168.1" rx="0.9" ry="0.9" transform="rotate(30 150.4 168.1)" fill="#e6f4e0"/>
<ellipse cx="133.2" cy="155.5" rx="0.7" ry="1.5" transform="rotate(11 133.2 155.5)" fill="#e6f4e0"/>
<ellipse cx="131.4" cy="141.0" rx="0.7" ry="1.7" transform="rotate(22 131.4 141.0)" fill="#e6f4e0"/>
<ellipse cx="134.4" cy="147.8" rx="1.0" ry="1.3" transform="rotate(12 134.4 147.8)" fill="#e6f4e0"/>
<ellipse cx="152.7" cy="159.4" rx="1.0" ry="0.9" transform="rotate(19 152.7 159.4)" fill="#e6f4e0"/>
<ellipse cx="153.1" cy="167.8" rx="1.0" ry="0.8" transform="rotate(14 153.1 167.8)" fill="#e6f4e0"/>
<ellipse cx="161.4" cy="147.2" rx="1.0" ry="1.4" transform="rotate(33 161.4 147.2)" fill="#e6f4e0"/>
<ellipse cx="164.5" cy="172.9" rx="0.8" ry="1.1" transform="rotate(28 164.5 172.9)" fill="#e6f4e0"/>
<ellipse cx="167.2" cy="163.6" rx="0.7" ry="1.2" transform="rotate(9 167.2 163.6)" fill="#e6f4e0"/>
<ellipse cx="162.4" cy="149.7" rx="0.8" ry="1.5" transform="rotate(11 162.4 149.7)" fill="#e6f4e0"/>
<ellipse cx="160.1" cy="152.4" rx="0.9" ry="1.0" transform="rotate(14 160.1 152.4)" fill="#e6f4e0"/>
<ellipse cx="162.4" cy="170.2" rx="0.8" ry="0.9" transform="rotate(8 162.4 170.2)" fill="#e6f4e0"/>
</g>
<path d="M419,195 413,200 411,205 414,212 415,220 415,230 416,238 418,246 421,250 425,250 428,247 427,240 426,232 426,225 427,218 428,210 430,203 434,197 438,195 445,194 440,192 430,192 425,193Z" fill="#f3f3f3" stroke="#111" stroke-width="1.3"/>
<g fill="none" stroke="#262626" stroke-width="1.35" stroke-linejoin="round" stroke-linecap="round">
<path d="M90,157.5 98,160 100,168 112,170 125,171.5 140,173 150,175"/>
<path d="M158,139 155,160 150,175"/>
<path d="M165,141 165,152.5 168.75,162.5 175,175 172.5,183.75 177.5,187.5 182.5,202.5 198.75,203.75 200,200"/>
<path d="M150,175 153.75,182.5 148,190 145,195 143,205 142,215 140,227"/>
<path d="M71.5,209 112,221 140,227 167.5,234 195,237.5"/>
<path d="M112,221 101.5,255.5 134.5,305 142,318"/>
<path d="M142,318 146,328 143,335 139.5,342 138,348.5"/>
<path d="M155,296 152,306 144,307 142,318"/>
<path d="M167.5,234 155,296"/>
<path d="M200,200 197,237.5 193.75,248.75"/>
<path d="M193.75,248.75 211.25,253.75 250,257.5 277.5,260"/>
<path d="M211.25,253.75 207,290 205,303.75 201.7,342 195.2,375.7"/>
<path d="M155,296 190,301.7 205,303.75 235,307.5 265.3,311 300,312.5 352.5,313.75"/>
<path d="M265.3,311 262.7,349.7 261.4,374.4"/>
<path d="M222.5,372.6 261.4,374.4"/>
<path d="M265,317.5 296.25,320"/>
<path d="M296.25,320 297.5,345 305,348 312.5,351.25 322,353 332.5,355 345,356 357.5,357.5"/>
<path d="M352.5,313.75 353.75,340 357.5,357.5"/>
<path d="M357.5,357.5 358.75,358.75 360,365 362,378 363.75,390 362,400 360,407.5"/>
<path d="M360,365 390,363.75"/>
<path d="M400,325 397.5,337.5 394,343 392.5,347.5 390,355 390,363.75 389,375 388.75,387.5 406.25,388.75 407.5,400"/>
<path d="M352.5,320 392,319 393,325 400,325"/>
<path d="M372.5,187.5 370,195 367.5,200 370,210 375,215 380,220 382.5,230 386.25,237.5 392.5,240 388,248 385,255 383,262 382.5,267.5 385,280 390,285 395,290 400,297 405,305 408.75,311.25 405,316 400,325"/>
<path d="M405,317.5 430,316 450,313.75 470,311 482.5,308.75 510,304 540,298.75"/>
<path d="M400,337.5 420,336.5 450,335 472.5,332.5"/>
<path d="M482.5,308.75 478,318 470,323 465,328 460,332 455,334.5"/>
<path d="M472.5,332.5 482.5,325 500,325.5 510,326 522.5,335"/>
<path d="M472.5,332.5 480,338 488,346 495,355 502.5,362.5"/>
<path d="M448.75,335 452,350 457.5,370 460,386.25"/>
<path d="M425,395 430,387.5 460,386.25 478,385.5 495,385 498.75,382.5"/>
<path d="M420,336.5 421,365 422.5,395"/>
<path d="M408.75,311.25 415,307.5 420,303 425,300 432,295 440,290 448.75,282.5 452,282 457.5,283.75 465,285 472.5,286 477,282 482.5,275 486,268 487.5,262.5"/>
<path d="M420,250 421,270 422.5,290 418,300 415,307.5"/>
<path d="M445,246 446.5,263 448.75,282.5"/>
<path d="M419.6,249 433,248 445,246.5 464,246"/>
<path d="M488.6,238.4 488,250 487.5,262.5"/>
<path d="M492,235.8 500,234.5 510,232.5 525,230 536.7,228"/>
<path d="M487.5,262.5 489.8,264.8 500,263.2 515,260.6 526,258.5 535.5,257"/>
<path d="M472.5,286 476,292 482.5,297.5 488.4,297 495.4,292.8 498.2,288.6 499.6,283 503.8,277.4 508,271.8 512.2,267.6 515,263.4"/>
<path d="M489.8,264.8 501,265.5 508,263.4 515,263.4 517.8,264.8 522,269 526,273.2 527.6,277.4 530.4,281.6 533.2,285.8"/>
<path d="M482.5,297.5 478,302 482.5,308.75"/>
<path d="M543,185 546.4,202 549,211 549.5,220 550,230 550,237.5"/>
<path d="M536.7,228 538.5,232 542,238 540.5,244 539,248.5 538.5,252.5"/>
<path d="M535.5,257 537.3,255.2 538.8,254.5"/>
<path d="M539.6,260.5 539.6,274 546.8,273.8"/>
<path d="M536.7,228 550,235"/>
<path d="M559.2,178.2 557.6,191 556,209.5"/>
<path d="M562.4,178.2 567.2,191 572,203.8"/>
<path d="M549,211 560,210 572,208"/>
<path d="M549,220 560,219.5 566,219 568,224"/>
<path d="M562,219.2 563,227"/>
<path d="M265,195 300,196 331.25,197.5"/>
<path d="M267.5,156 266,175 265,195 265,206.25 263,230 262,245 261,255"/>
<path d="M200,200 230,203 265,206.25"/>
<path d="M327.5,159 329,170 331.25,180 331,190 331.25,197.5 332.5,210 333.75,227.5"/>
<path d="M333.75,228.5 360,228 381.25,227.5"/>
<path d="M262.5,232.5 290,233.5 317.5,235 326,237 332.5,240"/>
<path d="M332.5,240 336,248 338.75,255 340,261 341.25,266.25 343,270 343.75,273.75 345,277.5 348,281 351.25,286"/>
<path d="M341.25,266.25 360,266.5 382.5,266.25"/>
<path d="M278.75,272.5 310,273 343.75,273.75"/>
<path d="M351.25,286 352,300 352.5,313.75"/>
<path d="M277.5,260 278.75,272.5 277,290 275,311.25"/>
<path d="M388,187 393,190 400,193 405,196 410,197"/>
<path d="M386.25,237.5 400,238 416,238"/>
</g>
<path d="M92,129.5 97,133 103,135.5 106,137 107,134 106,131 108,128 110,126.5 125,130.5 140,134 150,137.5 158,139 165,141 200,147.5 235,152 267.5,156 300,157.5 328.75,158.75 345,158.75 345,153.75 348.75,155 350,161 362.5,163.75 377.5,167.5 392.5,170 385,177 378,183 372.5,187.5 380,186 388,187 395,185 400,182.5 406,176 410,174.5 408,180 405,184 415,184 422.5,183.75 430,182.5 436,183 442,186 448,189 450,191 446,194 440,194.5 443,200 444,208 449,218 452,219 456,216 460,214 463,219 465,225 464.5,232 463,238 462,242 464,246 470.5,243.6 478,241 484,239.5 488.6,238.4 492,235.6 496,233 499,230 500,226 500,221 508,219 517.5,216 520,213 520,205 523,197 527.5,190 534,188 542.5,186 550,183 559.2,178.2 562.4,178.2 564.8,176.6 566.4,167 568,151 570.4,145.4 573.6,147 579.2,143.8 583.2,145.4 586.4,151 588,159 592.8,165.4 597.6,168.6 600,171.8 597.6,175 592.8,179.8 588,184.6 583.2,187.8 578.4,191 575.2,195.8 573.6,200.6 572.8,203.8 571,206.5 574,209 577,213 581,215 585,215 587,218 583,221 578.75,223.75 574,224 566,226 558,229 552,232 552.5,235 552,240 550,245 551.25,255 548.5,260 546.5,263.5 545.5,265 546.3,268.5 547,272.5 546,278 545,282.5 542.5,288.75 540,292.5 543.75,296.25 545,302.5 546.25,312.5 540,316.25 537.5,321.25 530,330 522.5,335 516,341 512.5,347.5 507.5,355 502.5,362.5 500,372.5 498.75,382.5 500,390 505,400 512.5,412.5 517.7,418.6 521.4,427.7 523.2,438.5 522.3,447.5 518.6,452 514,452.5 511.4,447.5 506,440.3 500.6,434.9 497,429.5 493.4,424 489.8,418.6 488.75,407.5 485,400 477.5,396.25 472,394.5 467.5,393.75 460,397.5 452.5,395 445,392.5 437,392 430,392.5 425,395 422.5,395 416,396 410,396.25 406.25,400 410,405 412.5,412.5 407,410 402.5,411.25 396,413 390,412.5 385,409 380,406.25 372,406 365,406.25 360,407.5 355,408.5 350,410 343,415 337.5,420 331,424 327.5,427.5 325.6,430 322,432.4 320.8,436 319.6,443.2 322,450.4 320.8,456.4 314.8,454 307.6,451.6 301.6,448 299.2,443.2 296.8,436 293.2,430 288.4,422.8 284.8,413.2 280,409.6 278.3,405.6 273,404 268,404.3 263,409 260,412 256,411 252.3,409.5 248,406 244.5,404.3 242,399 239,393 236.8,388.7 229,381 222.5,372.6 205.6,373 205.6,375.5 195.2,375.7 183,374 170,372.5 153,361 138,348.8 136.25,348.6 111.25,346.25 110,337.5 107,332 103,326 98,322.5 94,320 89,317.5 85,315.6 80.5,312.6 79,302 77.5,295 76,287 73,272 71.5,261.5 68.5,254 67,242 65.5,230 68.5,222.5 71.5,209 72,208 74,196 77,191 80,186 84,172 88,162 90,158 91,152 92,148 91.5,143 91,136 91,133Z" fill="none" stroke="#1c1c1c" stroke-width="1.6" stroke-linejoin="round"/>
<path d="M108.5,129.5 L110,132.5 L108.5,136 L110,139.5 L108,143 L105,146.5 L103,149.5 M107.5,139.5 L104.5,141.5 L103.5,144 M104.5,146.5 L101.5,147.5 M107,131 L104.5,132" fill="none" stroke="#151515" stroke-width="2.4" stroke-linecap="round" stroke-linejoin="round"/>
<path d="M533.4,260.2 L535.2,261.5 L536,266 L537,271.5 L538.3,277.5 L540,283.5 L541.5,289 L539.5,291 L537.5,288.5 L536,285 L534,282.5 L534.5,279.5 L532.5,277 L533,274 L531.5,271.5 L532,268 L531,265 L532,262.5Z" fill="#fff" stroke="#111" stroke-width="1.2" stroke-linejoin="round"/>
<path d="M538.5,252.5 L540.8,254.5 L543.6,257.5 L546.2,262.6 L545.2,264.6 L542.8,262.2 L540.6,258.8 L538.8,256Z" fill="#fff" stroke="#111" stroke-width="1.1" stroke-linejoin="round"/>
<path d="M421,196.5 L418.5,200 L415,204.5 L412,209 L410.8,212.5 L412.6,211.5 L415.8,206.8 L419.2,202.2 L421.8,198.5Z" fill="#fff" stroke="#111" stroke-width="1.1" stroke-linejoin="round"/>
<path d="M529.3,278.5 L524.5,276.5 M530.6,283.6 L525.5,282.8 L523,281 M533,288.5 L527.5,289 M531.5,273.5 L527,272 M541.5,300 L537,301.5 M542.8,305.5 L538.5,306 L536.5,309 M541,312.5 L536,313.5 M538.5,318 L534.5,318.8" fill="none" stroke="#151515" stroke-width="1.3" stroke-linecap="round"/>
<path d="M549.5,239 L554,236.5 L560,234.5 L566,232.5 L571,230.8 L568,233.6 L562,236.3 L556,238.6 L551,240.5Z" fill="#a8d46c" stroke="#111" stroke-width="1.2" stroke-linejoin="round"/>
<path d="M392.5,170 L400,168 L410,166 L420,168 L432,171 L440,175 L446,181 L450,188 M450,191 L458,194 L466,200 L470,208 L472,218 L468,228 L465,236 M462,240 L470,238 L480,232 L490,226 L497,222 M500,221 L506,216 L514,212 L520,210" fill="none" stroke="#c8c8c8" stroke-width="1"/>
<path d="M71.5,261 L74,263 L78,264.5 L82,265.5 M74,263 L74.5,268 L76,271" fill="none" stroke="#111" stroke-width="1.5" stroke-linecap="round"/>
<g fill="#222"><ellipse cx="85" cy="320.5" rx="2.2" ry="0.9"/><ellipse cx="88" cy="330.5" rx="0.9" ry="0.7"/><ellipse cx="98" cy="332" rx="1.1" ry="0.8"/><ellipse cx="97.5" cy="338" rx="0.8" ry="1"/></g></g><!--/map-->
<g id="mag" fill="none" stroke="#111">
<circle cx="645.7" cy="440.9" r="14.4" stroke-width="4.2"/>
<path d="M635 441H656.4M645.7 430.5V451.3" stroke-width="4"/>
<path d="M614.5 462L631 449.5" stroke-width="5" stroke-linecap="round"/>
</g>
</svg>
<div class="t" id="title">WHERE IT GROWS</div>
<div class="t sub" style="top:68.6px;left:-58px">This plant can be grown outdoors year round in the color</div>
<div class="t sub" style="top:88.4px;left:-58px">shaded areas and overwintered indoors in the striped area</div>
<div class="t" id="usda">USDA</div>
<div class="t" id="zones">ZONES</div>
<div id="legend">
<div style="background:#da8ce2">3a</div>
<div style="background:#c97fd8">3b</div>
<div style="background:#a56cf0">3b</div>
<div style="background:#5b7ce8">4b</div>
<div style="background:#7aa2f2">5a</div>
<div style="background:#62c6dc">5b</div>
<div style="background:#3ca84c">6a</div>
<div style="background:#6cc052">6b</div>
<div style="background:#9ed47a">7a</div>
<div style="background:#d8ecb2">7b</div>
<div style="background:#ecdc9e">8a</div>
<div style="background:#e8c85a">8b</div>
<div style="background:#d8b462">9a</div>
<div style="background:#f4b882">9b</div>
<div style="background:#ec9c42">10a</div>
<div style="background:#e07a32">10b</div>
</div>
<div class="t" id="cte">CLICK TO ENLARGE</div>
<div class="t" id="wm">© Wilson Bros Gardens</div>
</body></html>
